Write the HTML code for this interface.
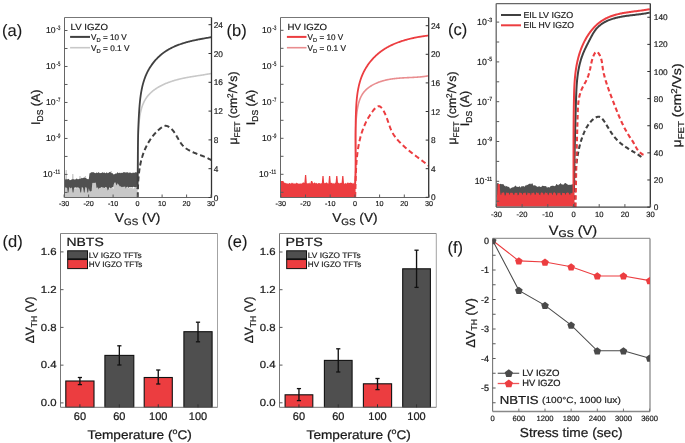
<!DOCTYPE html>
<html><head><meta charset="utf-8"><style>
html,body{margin:0;padding:0;background:#fff;}
svg{display:block;will-change:transform;font-family:"Liberation Sans", sans-serif;}
text{stroke:#1a1a1a;stroke-width:0.24px;text-rendering:geometricPrecision;}
text.s{stroke-width:0.18px;}
text.n{stroke-width:0.1px;}
</style></head><body>
<svg width="685" height="443" viewBox="0 0 685 443">
<rect width="685" height="443" fill="#fff"/>
<path d="M65,187.72 L65.6,170 L66.2,170 L66.8,170 L67.4,188.06 L68,187.79 L68.6,187.29 L69.2,188.01 L69.8,187.26 L70.4,187.89 L71,187.31 L71.6,187.35 L72.2,174 L72.8,174 L73.4,174 L74,187.56 L74.6,188.2 L75.2,188.72 L75.8,188.12 L76.4,187.83 L77,188.76 L77.6,187.27 L78.2,188.57 L78.8,187.66 L79.4,176 L80,176 L80.6,176 L81.2,188.51 L81.8,187.49 L82.4,188.13 L83,188.22 L83.6,187.8 L84.2,188.08 L84.8,176 L85.4,176 L86,176 L86.6,188.29 L87.2,187.88 L87.8,187.7 L88.4,188.14 L89,187.93 L89.6,187.68 L90.2,188.47 L90.8,188.32 L91.4,182.15 L92,182.75 L92.6,181.58 L93.2,181.24 L93.8,182.51 L94.4,181.98 L95,182.34 L95.6,182.15 L96.2,181.63 L96.8,182.19 L97.4,181.91 L98,182.89 L98.6,182.33 L99.2,182.4 L99.8,182.99 L100.4,181.57 L101,182.34 L101.6,187.24 L102.2,187.94 L102.8,187.47 L103.4,187.39 L104,187.29 L104.6,188.43 L105.2,187.41 L105.8,187.6 L106.4,187.83 L107,188.59 L107.6,187.33 L108.2,187.92 L108.8,188.08 L109.4,188.61 L110,188.51 L110.6,171 L111.2,171 L111.8,171 L112.4,187.77 L113,188.61 L113.6,188.73 L114.2,182.35 L114.8,182.47 L115.4,183.18 L116,182.01 L116.6,182.74 L117.2,183.91 L117.8,183.03 L118.4,183.35 L119,183.8 L119.6,183.75 L120.2,182.78 L120.8,182.21 L121.4,188.21 L122,187.3 L122.6,187.31 L123.2,187.53 L123.8,187.46 L124.4,187.74 L125,187.28 L125.6,187.2 L126.2,187.44 L126.8,187.36 L127.4,187.78 L128,187.24 L128.6,188.6 L129.2,188.18 L129.8,187.44 L130.4,187.6 L131,187.76 L131.6,187.78 L132.2,187.4 L132.8,188.56 L133.4,188.79 L134,187.95 L134.6,187.97 L135.2,187.34 L135.8,187.36 L136.4,187.75 L137,187.62 L137.6,188.53 L137.6,187.46 L137.6,197 L137.6,197 L137,197 L136.4,197 L135.8,197 L135.2,197 L134.6,197 L134,197 L133.4,197 L132.8,197 L132.2,197 L131.6,197 L131,197 L130.4,197 L129.8,197 L129.2,197 L128.6,197 L128,197 L127.4,197 L126.8,197 L126.2,197 L125.6,197 L125,197 L124.4,197 L123.8,197 L123.2,197 L122.6,197 L122,197 L121.4,197 L120.8,197 L120.2,197 L119.6,197 L119,197 L118.4,197 L117.8,197 L117.2,197 L116.6,197 L116,197 L115.4,197 L114.8,197 L114.2,197 L113.6,197 L113,197 L112.4,197 L111.8,197 L111.2,197 L110.6,197 L110,197 L109.4,197 L108.8,197 L108.2,197 L107.6,197 L107,197 L106.4,197 L105.8,197 L105.2,197 L104.6,197 L104,197 L103.4,197 L102.8,197 L102.2,197 L101.6,197 L101,197 L100.4,197 L99.8,197 L99.2,197 L98.6,197 L98,197 L97.4,197 L96.8,197 L96.2,197 L95.6,197 L95,197 L94.4,197 L93.8,197 L93.2,197 L92.6,197 L92,197 L91.4,197 L90.8,197 L90.2,197 L89.6,197 L89,197 L88.4,197 L87.8,197 L87.2,197 L86.6,197 L86,197 L85.4,197 L84.8,197 L84.2,197 L83.6,197 L83,197 L82.4,197 L81.8,197 L81.2,197 L80.6,197 L80,197 L79.4,197 L78.8,197 L78.2,197 L77.6,197 L77,197 L76.4,197 L75.8,197 L75.2,197 L74.6,197 L74,197 L73.4,197 L72.8,197 L72.2,197 L71.6,197 L71,197 L70.4,197 L69.8,197 L69.2,197 L68.6,197 L68,197 L67.4,197 L66.8,197 L66.2,197 L65.6,197 L65,197Z" stroke="none" stroke-width="1" fill="#c8c8c8"/>
<path d="M65,178.41 L65.7,179.82 L66.4,179.33 L67.1,178.9 L67.8,179.53 L68.5,178.87 L69.2,179.61 L69.9,180.27 L70.6,180.11 L71.3,179.85 L72,179.2 L72.7,179.29 L73.4,178.93 L74.1,179.69 L74.8,179.24 L75.5,179.48 L76.2,178.73 L76.9,178.45 L77.6,179.16 L78.3,179.28 L79,178.99 L79.7,178.83 L80.4,178.77 L81.1,178.6 L81.8,177.84 L82.5,178.23 L83.2,178 L83.9,177.56 L84.6,177.61 L85.3,178.02 L86,178.07 L86.7,178.77 L87.4,179.25 L88.1,178.65 L88.8,179.45 L89.5,173.28 L90.2,173.24 L90.9,172.41 L91.6,172.21 L92.3,172.22 L93,172.18 L93.7,172.19 L94.4,172.77 L95.1,173.16 L95.8,173.08 L96.5,172.57 L97.2,172.81 L97.9,173.02 L98.6,172.02 L99.3,172.82 L100,173.17 L100.7,173 L101.4,172.95 L102.1,172.57 L102.8,172.15 L103.5,173 L104.2,172.37 L104.9,173.02 L105.6,173.26 L106.3,172.45 L107,172.46 L107.7,173.23 L108.4,172.91 L109.1,172.14 L109.8,172.08 L110.5,172.11 L111.2,173.17 L111.9,173.03 L112.6,173.3 L113.3,174.26 L114,174.47 L114.7,174.02 L115.4,173.59 L116.1,173.87 L116.8,173.28 L117.5,171.92 L118.2,173.26 L118.9,172.81 L119.6,172.64 L120.3,173.21 L121,172.51 L121.7,173.12 L122.4,173.06 L123.1,172.2 L123.8,172.25 L124.5,172.31 L125.2,172.24 L125.9,172.72 L126.6,172.26 L127.3,172.49 L128,172.08 L128.7,173.17 L129.4,172.4 L130.1,172.54 L130.8,172.72 L131.5,173.17 L132.2,172.49 L132.9,173.18 L133.6,172.6 L134.3,172.64 L135,172.63 L135.7,171.93 L136.4,172.52 L137.1,172.16 L137.8,171.91 L137.8,187.48 L137.1,186.96 L136.4,187.09 L135.7,187.03 L135,187.45 L134.3,187.1 L133.6,186.64 L132.9,187.01 L132.2,187.42 L131.5,186.91 L130.8,187.01 L130.1,187.31 L129.4,187.05 L128.7,187.71 L128,187.6 L127.3,186.62 L126.6,187.71 L125.9,186.42 L125.2,188.77 L124.5,186.32 L123.8,187.45 L123.1,186.45 L122.4,187.26 L121.7,187.61 L121,186.55 L120.3,186.23 L119.6,186.15 L118.9,184.65 L118.2,184.33 L117.5,183.34 L116.8,185.52 L116.1,184.23 L115.4,182.62 L114.7,182.41 L114,183.49 L113.3,187.17 L112.6,187.06 L111.9,187.43 L111.2,187.68 L110.5,188.31 L109.8,187.24 L109.1,187.91 L108.4,189.68 L107.7,190.59 L107,188.02 L106.3,187.13 L105.6,187.11 L104.9,187.73 L104.2,187.88 L103.5,187.43 L102.8,187.84 L102.1,187.18 L101.4,187.08 L100.7,187.5 L100,188.22 L99.3,187.8 L98.6,189.43 L97.9,187.02 L97.2,187.88 L96.5,187.76 L95.8,182.33 L95.1,183.18 L94.4,182.72 L93.7,182.79 L93,183.2 L92.3,182.67 L91.6,191.01 L90.9,191.19 L90.2,191.48 L89.5,190.84 L88.8,188.33 L88.1,192.5 L87.4,192.5 L86.7,187.65 L86,187.56 L85.3,187.09 L84.6,192.5 L83.9,192.5 L83.2,188.19 L82.5,187.41 L81.8,187.26 L81.1,192.5 L80.4,192.5 L79.7,188.39 L79,188.07 L78.3,187.45 L77.6,187.39 L76.9,187.47 L76.2,187.74 L75.5,187.25 L74.8,187.71 L74.1,187.42 L73.4,192.5 L72.7,192.5 L72,187.88 L71.3,187.39 L70.6,188.55 L69.9,187.5 L69.2,187.57 L68.5,192.5 L67.8,192.5 L67.1,187.76 L66.4,187.8 L65.7,187.32 L65,187.81Z" stroke="none" stroke-width="1" fill="#505050"/>
<path d="M137.39,188.96 L137.44,188.42 L137.49,187.88 L137.54,187.34 L137.58,186.79 L137.63,186.25 L137.67,185.71 L137.71,185.16 L137.74,184.62 L137.78,184.08 L137.81,183.54 L137.85,182.99 L137.88,182.45 L137.91,181.91 L137.93,181.36 L137.96,180.82 L137.99,180.27 L138.01,179.73 L138.03,179.19 L138.05,178.64 L138.07,178.1 L138.09,177.55 L138.1,177.01 L138.12,176.46 L138.13,175.92 L138.15,175.37 L138.16,174.83 L138.17,174.28 L138.18,173.74 L138.19,173.19 L138.19,172.65 L138.2,172.1 L138.21,171.56 L138.21,171.01 L138.21,170.46 L138.22,169.92 L138.22,169.37 L138.22,168.82 L138.22,168.28 L138.22,167.73 L138.22,167.18 L138.22,166.64 L138.22,166.09 L138.21,165.54 L138.21,165 L138.21,164.45 L138.2,163.9 L138.2,163.35 L138.19,162.81 L138.19,162.26 L138.18,161.71 L138.18,161.16 L138.17,160.61 L138.16,160.06 L138.16,159.52 L138.15,158.97 L138.14,158.42 L138.14,157.87 L138.13,157.32 L138.12,156.77 L138.12,156.22 L138.11,155.67 L138.1,155.12 L138.09,154.58 L138.09,154.03 L138.08,153.48 L138.07,152.93 L138.07,152.38 L138.06,151.83 L138.06,151.28 L138.05,150.73 L138.05,150.18 L138.04,149.63 L138.04,149.07 L138.03,148.52 L138.03,147.97 L138.03,147.42 L138.03,146.87 L138.02,146.32 L138.02,145.77 L138.02,145.22 L138.02,144.67 L138.03,144.12 L138.03,143.56 L138.03,143.01 L138.03,142.46 L138.04,141.91 L138.04,141.36 L138.05,140.81 L138.06,140.25 L138.07,139.7 L138.08,139.15 L138.09,138.6 L138.1,138.04 L138.11,137.49 L138.13,136.94 L138.14,136.39 L138.16,135.83 L138.18,135.28 L138.19,134.73 L138.22,134.17 L138.24,133.62 L138.26,133.07 L138.28,132.51 L138.31,131.96 L138.34,131.41 L138.37,130.85 L138.4,130.3 L138.43,129.75 L138.47,129.19 L138.5,128.64 L138.54,128.08 L138.58,127.53 L138.62,126.98 L138.66,126.42 L138.71,125.87 L138.75,125.31 L138.8,124.76 L138.85,124.2 L138.91,123.65 L138.96,123.09 L139.02,122.54 L139.08,121.98 L139.14,121.43 L139.2,120.87 L139.26,120.32 L139.33,119.76 L139.4,119.21 L139.48,118.66 L139.55,118.1 L139.63,117.55 L139.71,117 L139.8,116.45 L139.89,115.9 L139.98,115.35 L140.07,114.8 L140.17,114.26 L140.28,113.71 L140.38,113.17 L140.5,112.63 L140.61,112.09 L140.73,111.55 L140.86,111.02 L140.98,110.49 L141.12,109.96 L141.26,109.43 L141.4,108.91 L141.55,108.38 L141.7,107.87 L141.86,107.35 L142.02,106.84 L142.19,106.33 L142.37,105.82 L142.55,105.32 L142.74,104.82 L142.93,104.32 L143.13,103.83 L143.34,103.35 L143.55,102.86 L143.77,102.38 L143.99,101.91 L144.23,101.44 L144.47,100.97 L144.71,100.51 L144.97,100.05 L145.23,99.6 L145.49,99.16 L145.77,98.71 L146.05,98.28 L146.34,97.85 L146.64,97.42 L146.95,97 L147.26,96.59 L147.59,96.18 L147.91,95.78 L148.25,95.38 L148.59,94.98 L148.94,94.6 L149.3,94.21 L149.66,93.84 L150.03,93.46 L150.41,93.1 L150.79,92.73 L151.18,92.38 L151.57,92.02 L151.98,91.67 L152.38,91.33 L152.79,90.99 L153.21,90.66 L153.63,90.33 L154.06,90.01 L154.5,89.69 L154.93,89.37 L155.38,89.06 L155.83,88.76 L156.28,88.46 L156.74,88.16 L157.2,87.87 L157.67,87.58 L158.14,87.3 L158.61,87.02 L159.09,86.75 L159.57,86.48 L160.06,86.21 L160.55,85.95 L161.04,85.69 L161.54,85.44 L162.04,85.19 L162.54,84.95 L163.05,84.71 L163.56,84.47 L164.07,84.24 L164.58,84.01 L165.1,83.79 L165.62,83.57 L166.14,83.35 L166.67,83.14 L167.19,82.93 L167.72,82.72 L168.25,82.52 L168.78,82.32 L169.31,82.13 L169.85,81.94 L170.38,81.75 L170.92,81.57 L171.46,81.39 L171.99,81.21 L172.53,81.04 L173.07,80.87 L173.61,80.71 L174.16,80.54 L174.7,80.38 L175.24,80.23 L175.78,80.07 L176.32,79.93 L176.87,79.78 L177.41,79.63 L177.95,79.49 L178.5,79.36 L179.04,79.22 L179.59,79.09 L180.13,78.96 L180.67,78.83 L181.22,78.7 L181.76,78.58 L182.31,78.46 L182.85,78.34 L183.4,78.23 L183.94,78.11 L184.49,78 L185.03,77.89 L185.58,77.78 L186.12,77.68 L186.67,77.57 L187.21,77.47 L187.76,77.37 L188.3,77.27 L188.85,77.17 L189.39,77.08 L189.94,76.98 L190.48,76.89 L191.02,76.79 L191.57,76.7 L192.11,76.61 L192.65,76.52 L193.2,76.43 L193.74,76.35 L194.28,76.26 L194.82,76.17 L195.36,76.09 L195.9,76 L196.44,75.92 L196.98,75.83 L197.52,75.75 L198.06,75.67 L198.6,75.58 L199.14,75.5 L199.68,75.42 L200.21,75.34 L200.75,75.25 L201.28,75.17 L201.82,75.09 L202.35,75 L202.89,74.92 L203.42,74.84 L203.95,74.75 L204.48,74.67 L205.01,74.58 L205.54,74.49 L206.07,74.41 L206.6,74.32 L207.12,74.23 L207.65,74.14 L208.18,74.05 L208.7,73.96 L209.22,73.86 L209.75,73.77 L210.27,73.67 L210.79,73.58 L211.31,73.48" stroke="#c8c8c8" stroke-width="1.6" fill="none"/>
<path d="M137.43,189.03 L137.44,188.37 L137.46,187.71 L137.48,187.05 L137.49,186.39 L137.51,185.73 L137.52,185.07 L137.53,184.41 L137.55,183.75 L137.56,183.09 L137.57,182.44 L137.58,181.78 L137.6,181.12 L137.61,180.47 L137.62,179.81 L137.63,179.16 L137.64,178.51 L137.65,177.85 L137.66,177.2 L137.66,176.55 L137.67,175.9 L137.68,175.24 L137.69,174.59 L137.7,173.94 L137.7,173.29 L137.71,172.64 L137.72,171.99 L137.72,171.34 L137.73,170.69 L137.74,170.04 L137.74,169.4 L137.75,168.75 L137.75,168.1 L137.76,167.45 L137.76,166.8 L137.77,166.16 L137.77,165.51 L137.78,164.86 L137.78,164.22 L137.79,163.57 L137.79,162.93 L137.8,162.28 L137.8,161.64 L137.81,160.99 L137.81,160.35 L137.82,159.7 L137.82,159.06 L137.83,158.41 L137.83,157.77 L137.84,157.12 L137.84,156.48 L137.84,155.84 L137.85,155.19 L137.86,154.55 L137.86,153.91 L137.87,153.26 L137.87,152.62 L137.88,151.97 L137.88,151.33 L137.89,150.69 L137.9,150.04 L137.9,149.4 L137.91,148.76 L137.92,148.11 L137.92,147.47 L137.93,146.83 L137.94,146.18 L137.95,145.54 L137.96,144.9 L137.96,144.25 L137.97,143.61 L137.98,142.97 L137.99,142.32 L138,141.68 L138.01,141.04 L138.02,140.39 L138.04,139.75 L138.05,139.1 L138.06,138.46 L138.07,137.81 L138.09,137.17 L138.1,136.52 L138.11,135.88 L138.13,135.23 L138.14,134.59 L138.16,133.94 L138.18,133.29 L138.19,132.65 L138.21,132 L138.23,131.35 L138.25,130.71 L138.27,130.06 L138.29,129.41 L138.31,128.76 L138.33,128.11 L138.35,127.47 L138.38,126.82 L138.4,126.17 L138.42,125.52 L138.45,124.87 L138.47,124.22 L138.5,123.57 L138.53,122.91 L138.56,122.26 L138.59,121.61 L138.62,120.96 L138.65,120.3 L138.68,119.65 L138.71,119 L138.74,118.34 L138.78,117.69 L138.81,117.03 L138.85,116.38 L138.88,115.72 L138.92,115.06 L138.96,114.4 L139,113.75 L139.04,113.09 L139.08,112.43 L139.12,111.77 L139.17,111.11 L139.21,110.45 L139.26,109.79 L139.31,109.12 L139.35,108.46 L139.4,107.8 L139.45,107.13 L139.51,106.47 L139.56,105.81 L139.61,105.14 L139.67,104.48 L139.73,103.81 L139.79,103.15 L139.86,102.49 L139.92,101.82 L139.99,101.16 L140.06,100.5 L140.13,99.83 L140.21,99.17 L140.28,98.51 L140.36,97.85 L140.45,97.19 L140.54,96.53 L140.62,95.87 L140.72,95.21 L140.81,94.56 L140.91,93.9 L141.02,93.25 L141.12,92.59 L141.23,91.94 L141.35,91.29 L141.47,90.64 L141.59,90 L141.71,89.35 L141.85,88.71 L141.98,88.06 L142.12,87.42 L142.26,86.79 L142.41,86.15 L142.56,85.51 L142.72,84.88 L142.88,84.25 L143.05,83.62 L143.23,83 L143.4,82.38 L143.59,81.76 L143.78,81.14 L143.97,80.52 L144.17,79.91 L144.38,79.3 L144.59,78.69 L144.8,78.09 L145.03,77.49 L145.26,76.89 L145.49,76.29 L145.74,75.7 L145.98,75.11 L146.24,74.53 L146.5,73.95 L146.77,73.37 L147.04,72.79 L147.32,72.22 L147.61,71.65 L147.9,71.09 L148.2,70.53 L148.5,69.97 L148.81,69.42 L149.13,68.87 L149.45,68.32 L149.78,67.78 L150.11,67.25 L150.46,66.71 L150.8,66.18 L151.16,65.66 L151.51,65.14 L151.88,64.62 L152.25,64.11 L152.63,63.6 L153.01,63.1 L153.4,62.6 L153.79,62.11 L154.19,61.62 L154.59,61.14 L155,60.66 L155.42,60.18 L155.84,59.71 L156.27,59.25 L156.71,58.79 L157.14,58.33 L157.59,57.88 L158.04,57.44 L158.5,57 L158.96,56.56 L159.42,56.13 L159.9,55.71 L160.37,55.29 L160.86,54.88 L161.35,54.47 L161.84,54.07 L162.34,53.67 L162.84,53.28 L163.35,52.89 L163.87,52.51 L164.39,52.14 L164.91,51.77 L165.45,51.41 L165.98,51.05 L166.52,50.7 L167.07,50.36 L167.62,50.02 L168.18,49.69 L168.74,49.37 L169.3,49.05 L169.87,48.73 L170.45,48.43 L171.03,48.12 L171.61,47.83 L172.2,47.54 L172.8,47.25 L173.39,46.97 L173.99,46.7 L174.6,46.43 L175.2,46.17 L175.81,45.91 L176.43,45.66 L177.05,45.41 L177.67,45.17 L178.29,44.93 L178.92,44.7 L179.54,44.47 L180.18,44.24 L180.81,44.02 L181.45,43.81 L182.08,43.6 L182.72,43.39 L183.37,43.19 L184.01,42.99 L184.65,42.79 L185.3,42.6 L185.95,42.42 L186.6,42.23 L187.25,42.05 L187.9,41.88 L188.55,41.71 L189.2,41.54 L189.86,41.37 L190.51,41.21 L191.17,41.05 L191.82,40.89 L192.47,40.74 L193.13,40.59 L193.78,40.45 L194.44,40.3 L195.09,40.16 L195.74,40.02 L196.39,39.88 L197.04,39.75 L197.69,39.62 L198.34,39.49 L198.99,39.36 L199.64,39.24 L200.28,39.11 L200.93,38.99 L201.57,38.87 L202.21,38.76 L202.84,38.64 L203.48,38.53 L204.11,38.42 L204.74,38.3 L205.37,38.19 L206,38.09 L206.62,37.98 L207.24,37.87 L207.86,37.77 L208.47,37.66 L209.08,37.56 L209.69,37.46 L210.29,37.36 L210.89,37.26 L211.48,37.16" stroke="#404040" stroke-width="1.8" fill="none"/>
<path d="M137.72,197.33 L137.73,196.85 L137.74,196.38 L137.75,195.91 L137.76,195.43 L137.77,194.96 L137.78,194.49 L137.79,194.02 L137.8,193.54 L137.81,193.07 L137.82,192.6 L137.84,192.13 L137.85,191.65 L137.86,191.18 L137.87,190.71 L137.89,190.24 L137.9,189.76 L137.91,189.29 L137.93,188.82 L137.94,188.35 L137.96,187.88 L137.98,187.41 L137.99,186.94 L138.01,186.47 L138.03,186 L138.05,185.53 L138.07,185.06 L138.09,184.59 L138.11,184.12 L138.13,183.65 L138.15,183.18 L138.18,182.71 L138.2,182.24 L138.23,181.77 L138.26,181.3 L138.29,180.83 L138.32,180.37 L138.35,179.9 L138.38,179.43 L138.41,178.97 L138.45,178.5 L138.48,178.03 L138.52,177.57 L138.56,177.1 L138.6,176.63 L138.64,176.17 L138.68,175.7 L138.73,175.24 L138.78,174.78 L138.82,174.31 L138.87,173.85 L138.92,173.38 L138.98,172.92 L139.03,172.46 L139.09,172 L139.15,171.53 L139.21,171.07 L139.27,170.61 L139.33,170.15 L139.4,169.69 L139.46,169.23 L139.53,168.77 L139.61,168.31 L139.68,167.85 L139.76,167.39 L139.83,166.93 L139.91,166.48 L140,166.02 L140.08,165.56 L140.17,165.11 L140.26,164.65 L140.35,164.19 L140.44,163.74 L140.54,163.28 L140.64,162.83 L140.74,162.37 L140.84,161.92 L140.95,161.47 L141.06,161.02 L141.17,160.56 L141.29,160.11 L141.4,159.66 L141.52,159.21 L141.65,158.76 L141.77,158.31 L141.9,157.86 L142.03,157.41 L142.17,156.97 L142.3,156.52 L142.44,156.07 L142.59,155.62 L142.73,155.18 L142.88,154.73 L143.03,154.29 L143.19,153.84 L143.35,153.4 L143.51,152.96 L143.68,152.51 L143.84,152.07 L144.01,151.63 L144.19,151.19 L144.37,150.75 L144.55,150.31 L144.73,149.88 L144.92,149.44 L145.11,149 L145.31,148.57 L145.5,148.14 L145.7,147.71 L145.91,147.27 L146.11,146.85 L146.32,146.42 L146.54,145.99 L146.75,145.57 L146.97,145.14 L147.2,144.72 L147.42,144.3 L147.65,143.88 L147.88,143.47 L148.12,143.05 L148.36,142.64 L148.6,142.23 L148.84,141.82 L149.09,141.41 L149.34,141.01 L149.6,140.61 L149.86,140.21 L150.12,139.81 L150.38,139.41 L150.65,139.02 L150.92,138.63 L151.19,138.24 L151.47,137.85 L151.75,137.47 L152.04,137.09 L152.32,136.71 L152.61,136.33 L152.91,135.96 L153.2,135.59 L153.5,135.22 L153.8,134.86 L154.11,134.5 L154.42,134.14 L154.73,133.78 L155.05,133.43 L155.37,133.08 L155.69,132.73 L156.01,132.39 L156.34,132.05 L156.68,131.72 L157.01,131.38 L157.35,131.06 L157.69,130.73 L158.03,130.41 L158.38,130.09 L158.73,129.78 L159.09,129.47 L159.44,129.16 L159.81,128.86 L160.17,128.56 L160.54,128.26 L160.91,127.97 L161.28,127.69 L161.66,127.41 L162.04,127.15 L162.42,126.9 L162.8,126.67 L163.19,126.47 L163.58,126.28 L163.98,126.12 L164.37,125.99 L164.77,125.9 L165.17,125.83 L165.58,125.81 L165.98,125.82 L166.39,125.87 L166.8,125.96 L167.2,126.08 L167.61,126.23 L168.01,126.4 L168.41,126.6 L168.81,126.83 L169.2,127.07 L169.58,127.33 L169.96,127.61 L170.33,127.9 L170.69,128.2 L171.04,128.52 L171.38,128.84 L171.71,129.17 L172.04,129.51 L172.36,129.86 L172.67,130.21 L172.97,130.58 L173.27,130.95 L173.56,131.32 L173.85,131.71 L174.13,132.1 L174.4,132.49 L174.67,132.89 L174.94,133.29 L175.2,133.7 L175.46,134.11 L175.72,134.53 L175.97,134.94 L176.22,135.36 L176.47,135.79 L176.72,136.21 L176.96,136.64 L177.21,137.06 L177.45,137.49 L177.69,137.91 L177.94,138.34 L178.18,138.76 L178.42,139.19 L178.67,139.61 L178.91,140.03 L179.16,140.45 L179.41,140.86 L179.67,141.27 L179.92,141.68 L180.18,142.08 L180.45,142.48 L180.71,142.87 L180.98,143.26 L181.26,143.64 L181.54,144.02 L181.83,144.39 L182.12,144.75 L182.42,145.11 L182.72,145.45 L183.04,145.79 L183.36,146.12 L183.68,146.44 L184.01,146.76 L184.35,147.07 L184.7,147.36 L185.05,147.66 L185.4,147.94 L185.77,148.22 L186.13,148.49 L186.51,148.75 L186.89,149.01 L187.27,149.26 L187.66,149.51 L188.05,149.75 L188.45,149.99 L188.85,150.22 L189.25,150.44 L189.66,150.66 L190.07,150.88 L190.49,151.09 L190.91,151.3 L191.33,151.5 L191.76,151.7 L192.19,151.9 L192.62,152.09 L193.05,152.28 L193.49,152.47 L193.93,152.65 L194.37,152.83 L194.81,153.01 L195.26,153.19 L195.7,153.36 L196.15,153.54 L196.6,153.71 L197.04,153.88 L197.49,154.05 L197.94,154.22 L198.39,154.39 L198.84,154.56 L199.29,154.72 L199.74,154.89 L200.19,155.06 L200.64,155.23 L201.09,155.4 L201.54,155.57 L201.99,155.74 L202.43,155.91 L202.88,156.09 L203.32,156.26 L203.76,156.44 L204.2,156.62 L204.63,156.8 L205.07,156.99 L205.5,157.18 L205.93,157.37 L206.36,157.56 L206.78,157.76 L207.2,157.96 L207.62,158.16 L208.03,158.37 L208.44,158.59 L208.85,158.8 L209.25,159.02 L209.65,159.25 L210.04,159.48 L210.43,159.72 L210.81,159.96 L211.19,160.21" stroke="#404040" stroke-width="2" fill="none" stroke-dasharray="5 3"/>
<line x1="64.5" y1="17.5" x2="211.5" y2="17.5" stroke="#777" stroke-width="1"/>
<line x1="211.5" y1="17.5" x2="211.5" y2="197.5" stroke="#333" stroke-width="1.3"/>
<line x1="64.5" y1="197.5" x2="211.5" y2="197.5" stroke="#666" stroke-width="1"/>
<line x1="64.5" y1="17.5" x2="64.5" y2="197.5" stroke="#666" stroke-width="1"/>
<line x1="64.5" y1="30.5" x2="67.5" y2="30.5" stroke="#5a5a5a" stroke-width="1"/>
<line x1="64.5" y1="48.49" x2="67.5" y2="48.49" stroke="#5a5a5a" stroke-width="1"/>
<line x1="64.5" y1="66.48" x2="67.5" y2="66.48" stroke="#5a5a5a" stroke-width="1"/>
<line x1="64.5" y1="84.47" x2="67.5" y2="84.47" stroke="#5a5a5a" stroke-width="1"/>
<line x1="64.5" y1="102.46" x2="67.5" y2="102.46" stroke="#5a5a5a" stroke-width="1"/>
<line x1="64.5" y1="120.45" x2="67.5" y2="120.45" stroke="#5a5a5a" stroke-width="1"/>
<line x1="64.5" y1="138.44" x2="67.5" y2="138.44" stroke="#5a5a5a" stroke-width="1"/>
<line x1="64.5" y1="156.43" x2="67.5" y2="156.43" stroke="#5a5a5a" stroke-width="1"/>
<line x1="64.5" y1="174.42" x2="67.5" y2="174.42" stroke="#5a5a5a" stroke-width="1"/>
<line x1="64.5" y1="192.41" x2="67.5" y2="192.41" stroke="#5a5a5a" stroke-width="1"/>
<text class="s" x="60.3" y="30" font-size="6.3" text-anchor="end" fill="#1a1a1a" textLength="3.8" lengthAdjust="spacingAndGlyphs">-3</text>
<text class="s" x="55.5" y="33.1" font-size="8.6" text-anchor="end" fill="#1a1a1a">10</text>
<text class="s" x="60.3" y="65.98" font-size="6.3" text-anchor="end" fill="#1a1a1a" textLength="3.8" lengthAdjust="spacingAndGlyphs">-5</text>
<text class="s" x="55.5" y="69.08" font-size="8.6" text-anchor="end" fill="#1a1a1a">10</text>
<text class="s" x="60.3" y="101.96" font-size="6.3" text-anchor="end" fill="#1a1a1a" textLength="3.8" lengthAdjust="spacingAndGlyphs">-7</text>
<text class="s" x="55.5" y="105.06" font-size="8.6" text-anchor="end" fill="#1a1a1a">10</text>
<text class="s" x="60.3" y="137.94" font-size="6.3" text-anchor="end" fill="#1a1a1a" textLength="3.8" lengthAdjust="spacingAndGlyphs">-9</text>
<text class="s" x="55.5" y="141.04" font-size="8.6" text-anchor="end" fill="#1a1a1a">10</text>
<text class="s" x="60.3" y="173.92" font-size="6.3" text-anchor="end" fill="#1a1a1a" textLength="6.8" lengthAdjust="spacingAndGlyphs">-11</text>
<text class="s" x="52.5" y="177.02" font-size="8.6" text-anchor="end" fill="#1a1a1a">10</text>
<line x1="208.5" y1="197.5" x2="211.5" y2="197.5" stroke="#333" stroke-width="1"/>
<text class="s" x="213.7" y="200.5" font-size="8.3" text-anchor="start" fill="#1a1a1a">0</text>
<line x1="208.5" y1="168.7" x2="211.5" y2="168.7" stroke="#333" stroke-width="1"/>
<text class="s" x="213.7" y="171.7" font-size="8.3" text-anchor="start" fill="#1a1a1a">4</text>
<line x1="208.5" y1="139.9" x2="211.5" y2="139.9" stroke="#333" stroke-width="1"/>
<text class="s" x="213.7" y="142.9" font-size="8.3" text-anchor="start" fill="#1a1a1a">8</text>
<line x1="208.5" y1="111.1" x2="211.5" y2="111.1" stroke="#333" stroke-width="1"/>
<text class="s" x="213.7" y="114.1" font-size="8.3" text-anchor="start" fill="#1a1a1a">12</text>
<line x1="208.5" y1="82.3" x2="211.5" y2="82.3" stroke="#333" stroke-width="1"/>
<text class="s" x="213.7" y="85.3" font-size="8.3" text-anchor="start" fill="#1a1a1a">16</text>
<line x1="208.5" y1="53.5" x2="211.5" y2="53.5" stroke="#333" stroke-width="1"/>
<text class="s" x="213.7" y="56.5" font-size="8.3" text-anchor="start" fill="#1a1a1a">20</text>
<line x1="208.5" y1="24.7" x2="211.5" y2="24.7" stroke="#333" stroke-width="1"/>
<text class="s" x="213.7" y="27.7" font-size="8.3" text-anchor="start" fill="#1a1a1a">24</text>
<line x1="64.1" y1="197.5" x2="64.1" y2="194.5" stroke="#5a5a5a" stroke-width="1"/>
<text class="s" x="64.1" y="206.2" font-size="7.2" text-anchor="middle" fill="#1a1a1a">-30</text>
<line x1="88.6" y1="197.5" x2="88.6" y2="194.5" stroke="#5a5a5a" stroke-width="1"/>
<text class="s" x="88.6" y="206.2" font-size="7.2" text-anchor="middle" fill="#1a1a1a">-20</text>
<line x1="113.1" y1="197.5" x2="113.1" y2="194.5" stroke="#5a5a5a" stroke-width="1"/>
<text class="s" x="113.1" y="206.2" font-size="7.2" text-anchor="middle" fill="#1a1a1a">-10</text>
<line x1="137.6" y1="197.5" x2="137.6" y2="194.5" stroke="#5a5a5a" stroke-width="1"/>
<text class="s" x="137.6" y="206.2" font-size="7.2" text-anchor="middle" fill="#1a1a1a">0</text>
<line x1="162.1" y1="197.5" x2="162.1" y2="194.5" stroke="#5a5a5a" stroke-width="1"/>
<text class="s" x="162.1" y="206.2" font-size="7.2" text-anchor="middle" fill="#1a1a1a">10</text>
<line x1="186.6" y1="197.5" x2="186.6" y2="194.5" stroke="#5a5a5a" stroke-width="1"/>
<text class="s" x="186.6" y="206.2" font-size="7.2" text-anchor="middle" fill="#1a1a1a">20</text>
<line x1="211.1" y1="197.5" x2="211.1" y2="194.5" stroke="#5a5a5a" stroke-width="1"/>
<text class="s" x="211.1" y="206.2" font-size="7.2" text-anchor="middle" fill="#1a1a1a">30</text>
<path d="M281,181 L281.6,181 L282.2,181 L282.8,181 L283.4,181 L284,182.43 L284.6,182.86 L285.2,182.75 L285.8,183.28 L286.4,183.19 L287,183.53 L287.6,183.39 L288.2,183.47 L288.8,183.72 L289.4,182.98 L290,182.89 L290.6,183.88 L291.2,182.62 L291.8,183.49 L292.4,183.36 L293,182.47 L293.6,183.65 L294.2,183.74 L294.8,183.34 L295.4,183.5 L296,183.62 L296.6,182.61 L297.2,183.19 L297.8,183.16 L298.4,183.65 L299,183.61 L299.6,183.64 L300.2,183.28 L300.8,183.74 L301.4,183.42 L302,183.44 L302.6,182.74 L303.2,182.45 L303.8,182.6 L304.4,182.94 L305,175 L305.6,175 L306.2,175 L306.8,183.34 L307.4,183.34 L308,183.42 L308.6,183.13 L309.2,182.4 L309.8,183.6 L310.4,183.52 L311,181 L311.6,181 L312.2,181 L312.8,182.5 L313.4,183.51 L314,182.78 L314.6,182.51 L315.2,182.8 L315.8,183.49 L316.4,182.71 L317,183.51 L317.6,183.86 L318.2,183.14 L318.8,182.97 L319.4,183.12 L320,183.43 L320.6,183.55 L321.2,183.33 L321.8,183.36 L322.4,176 L323,176 L323.6,176 L324.2,183.51 L324.8,182.86 L325.4,183.25 L326,182.42 L326.6,182.49 L327.2,182.8 L327.8,183.41 L328.4,183.44 L329,176 L329.6,176 L330.2,176 L330.8,183.1 L331.4,183.1 L332,182.58 L332.6,183.74 L333.2,182.7 L333.8,183.87 L334.4,183.8 L335,182.43 L335.6,183.09 L336.2,176 L336.8,176 L337.4,176 L338,182.8 L338.6,182.71 L339.2,183.82 L339.8,182.72 L340.4,183.27 L341,182.61 L341.6,183.19 L342.2,176 L342.8,176 L343.4,176 L344,183.16 L344.6,183.73 L345.2,183.46 L345.8,182.75 L346.4,183.75 L347,183.13 L347.6,182.44 L348.2,182.41 L348.8,183.14 L349.4,183.08 L350,182.85 L350.6,182.61 L351.2,182.92 L351.8,182.87 L352.4,183.66 L353,182.4 L353.6,183.53 L354.2,183.66 L354.8,182.58 L355.4,183.79 L355.6,183.47 L355.6,197 L355.4,197 L354.8,197 L354.2,197 L353.6,197 L353,197 L352.4,197 L351.8,197 L351.2,197 L350.6,197 L350,197 L349.4,197 L348.8,197 L348.2,197 L347.6,197 L347,197 L346.4,197 L345.8,197 L345.2,197 L344.6,197 L344,197 L343.4,197 L342.8,197 L342.2,197 L341.6,197 L341,197 L340.4,197 L339.8,197 L339.2,197 L338.6,197 L338,197 L337.4,197 L336.8,197 L336.2,197 L335.6,197 L335,197 L334.4,197 L333.8,197 L333.2,197 L332.6,197 L332,197 L331.4,197 L330.8,197 L330.2,197 L329.6,197 L329,197 L328.4,197 L327.8,197 L327.2,197 L326.6,197 L326,197 L325.4,197 L324.8,197 L324.2,197 L323.6,197 L323,197 L322.4,197 L321.8,197 L321.2,197 L320.6,197 L320,197 L319.4,197 L318.8,197 L318.2,197 L317.6,197 L317,197 L316.4,197 L315.8,197 L315.2,197 L314.6,197 L314,197 L313.4,197 L312.8,197 L312.2,197 L311.6,197 L311,197 L310.4,197 L309.8,197 L309.2,197 L308.6,197 L308,197 L307.4,197 L306.8,197 L306.2,197 L305.6,197 L305,197 L304.4,197 L303.8,197 L303.2,197 L302.6,197 L302,197 L301.4,197 L300.8,197 L300.2,197 L299.6,197 L299,197 L298.4,197 L297.8,197 L297.2,197 L296.6,197 L296,197 L295.4,197 L294.8,197 L294.2,197 L293.6,197 L293,197 L292.4,197 L291.8,197 L291.2,197 L290.6,197 L290,197 L289.4,197 L288.8,197 L288.2,197 L287.6,197 L287,197 L286.4,197 L285.8,197 L285.2,197 L284.6,197 L284,197 L283.4,197 L282.8,197 L282.2,197 L281.6,197 L281,197Z" stroke="none" stroke-width="1" fill="#ec3d40"/>
<path d="M354.88,188.98 L354.93,188.42 L354.98,187.86 L355.02,187.3 L355.06,186.74 L355.1,186.19 L355.14,185.63 L355.18,185.07 L355.22,184.51 L355.25,183.96 L355.28,183.4 L355.32,182.84 L355.35,182.29 L355.37,181.73 L355.4,181.17 L355.43,180.61 L355.45,180.06 L355.47,179.5 L355.5,178.94 L355.52,178.39 L355.54,177.83 L355.55,177.27 L355.57,176.72 L355.59,176.16 L355.6,175.6 L355.62,175.05 L355.63,174.49 L355.64,173.94 L355.65,173.38 L355.66,172.82 L355.67,172.27 L355.67,171.71 L355.68,171.15 L355.69,170.6 L355.69,170.04 L355.69,169.48 L355.7,168.93 L355.7,168.37 L355.7,167.82 L355.7,167.26 L355.7,166.7 L355.7,166.15 L355.7,165.59 L355.7,165.03 L355.7,164.48 L355.7,163.92 L355.69,163.37 L355.69,162.81 L355.68,162.25 L355.68,161.7 L355.67,161.14 L355.67,160.58 L355.66,160.03 L355.66,159.47 L355.65,158.91 L355.64,158.36 L355.64,157.8 L355.63,157.24 L355.62,156.69 L355.62,156.13 L355.61,155.57 L355.6,155.01 L355.59,154.46 L355.59,153.9 L355.58,153.34 L355.57,152.79 L355.56,152.23 L355.56,151.67 L355.55,151.11 L355.54,150.56 L355.53,150 L355.53,149.44 L355.52,148.88 L355.51,148.32 L355.51,147.77 L355.5,147.21 L355.5,146.65 L355.49,146.09 L355.49,145.53 L355.48,144.97 L355.48,144.41 L355.48,143.85 L355.47,143.3 L355.47,142.74 L355.47,142.18 L355.47,141.62 L355.47,141.06 L355.47,140.5 L355.47,139.94 L355.47,139.38 L355.47,138.82 L355.48,138.26 L355.48,137.7 L355.48,137.14 L355.49,136.57 L355.5,136.01 L355.5,135.45 L355.51,134.89 L355.52,134.33 L355.53,133.77 L355.54,133.21 L355.55,132.64 L355.57,132.08 L355.58,131.52 L355.6,130.96 L355.61,130.39 L355.63,129.83 L355.65,129.27 L355.67,128.7 L355.69,128.14 L355.72,127.57 L355.74,127.01 L355.77,126.45 L355.79,125.88 L355.82,125.32 L355.85,124.75 L355.88,124.19 L355.92,123.62 L355.95,123.06 L355.99,122.49 L356.02,121.92 L356.06,121.36 L356.1,120.79 L356.15,120.22 L356.19,119.66 L356.24,119.09 L356.28,118.52 L356.33,117.95 L356.38,117.39 L356.44,116.82 L356.49,116.25 L356.55,115.68 L356.61,115.11 L356.67,114.54 L356.73,113.97 L356.8,113.4 L356.86,112.83 L356.94,112.26 L357.01,111.69 L357.08,111.13 L357.16,110.56 L357.25,109.99 L357.33,109.43 L357.42,108.87 L357.52,108.3 L357.61,107.75 L357.72,107.19 L357.82,106.63 L357.93,106.08 L358.05,105.53 L358.17,104.98 L358.3,104.43 L358.43,103.89 L358.57,103.35 L358.72,102.82 L358.87,102.29 L359.02,101.76 L359.18,101.24 L359.35,100.72 L359.53,100.2 L359.71,99.69 L359.9,99.18 L360.1,98.68 L360.31,98.19 L360.52,97.7 L360.74,97.21 L360.97,96.73 L361.21,96.26 L361.45,95.79 L361.71,95.33 L361.97,94.87 L362.25,94.42 L362.53,93.98 L362.82,93.54 L363.12,93.12 L363.43,92.7 L363.75,92.28 L364.08,91.87 L364.42,91.47 L364.77,91.08 L365.13,90.7 L365.49,90.32 L365.87,89.94 L366.25,89.58 L366.64,89.22 L367.04,88.87 L367.44,88.52 L367.86,88.18 L368.28,87.85 L368.7,87.53 L369.14,87.21 L369.58,86.89 L370.03,86.59 L370.48,86.29 L370.94,85.99 L371.41,85.71 L371.88,85.42 L372.36,85.15 L372.85,84.88 L373.33,84.62 L373.83,84.36 L374.33,84.11 L374.83,83.86 L375.34,83.62 L375.85,83.39 L376.37,83.16 L376.89,82.94 L377.42,82.73 L377.95,82.52 L378.48,82.31 L379.01,82.11 L379.55,81.92 L380.09,81.73 L380.64,81.55 L381.19,81.37 L381.74,81.2 L382.29,81.03 L382.84,80.87 L383.4,80.72 L383.95,80.56 L384.51,80.42 L385.07,80.28 L385.63,80.14 L386.2,80.01 L386.76,79.89 L387.32,79.77 L387.89,79.65 L388.45,79.54 L389.02,79.43 L389.58,79.33 L390.15,79.23 L390.71,79.14 L391.28,79.05 L391.85,78.96 L392.42,78.88 L392.98,78.8 L393.55,78.73 L394.12,78.65 L394.69,78.59 L395.26,78.52 L395.83,78.46 L396.4,78.4 L396.97,78.34 L397.53,78.29 L398.1,78.24 L398.67,78.19 L399.24,78.14 L399.81,78.1 L400.38,78.06 L400.95,78.02 L401.52,77.98 L402.09,77.94 L402.66,77.91 L403.22,77.88 L403.79,77.84 L404.36,77.81 L404.93,77.78 L405.5,77.75 L406.06,77.73 L406.63,77.7 L407.2,77.67 L407.76,77.65 L408.33,77.62 L408.89,77.59 L409.45,77.57 L410.02,77.54 L410.58,77.52 L411.14,77.49 L411.7,77.46 L412.27,77.44 L412.83,77.41 L413.39,77.38 L413.94,77.35 L414.5,77.32 L415.06,77.29 L415.61,77.26 L416.17,77.22 L416.72,77.19 L417.28,77.15 L417.83,77.11 L418.38,77.07 L418.93,77.03 L419.48,76.98 L420.03,76.94 L420.58,76.89 L421.12,76.84 L421.67,76.78 L422.21,76.72 L422.75,76.66 L423.29,76.6 L423.83,76.54 L424.37,76.47 L424.91,76.39 L425.45,76.32 L425.98,76.24 L426.51,76.15 L427.04,76.07 L427.57,75.97 L428.1,75.88 L428.63,75.78" stroke="#e98d8f" stroke-width="1.6" fill="none"/>
<path d="M354.83,188.97 L354.87,188.31 L354.91,187.66 L354.95,187 L354.98,186.34 L355.02,185.68 L355.05,185.03 L355.09,184.37 L355.12,183.71 L355.15,183.06 L355.18,182.4 L355.21,181.75 L355.24,181.09 L355.26,180.44 L355.29,179.78 L355.31,179.13 L355.34,178.47 L355.36,177.82 L355.38,177.17 L355.4,176.51 L355.42,175.86 L355.44,175.21 L355.45,174.55 L355.47,173.9 L355.49,173.25 L355.5,172.6 L355.51,171.94 L355.53,171.29 L355.54,170.64 L355.55,169.99 L355.56,169.34 L355.57,168.69 L355.58,168.03 L355.59,167.38 L355.6,166.73 L355.6,166.08 L355.61,165.43 L355.62,164.78 L355.62,164.13 L355.63,163.48 L355.63,162.83 L355.63,162.18 L355.64,161.53 L355.64,160.88 L355.64,160.23 L355.64,159.58 L355.64,158.93 L355.65,158.28 L355.65,157.63 L355.65,156.98 L355.65,156.33 L355.65,155.68 L355.64,155.03 L355.64,154.38 L355.64,153.73 L355.64,153.08 L355.64,152.43 L355.64,151.78 L355.63,151.13 L355.63,150.48 L355.63,149.83 L355.63,149.18 L355.62,148.53 L355.62,147.87 L355.62,147.22 L355.62,146.57 L355.61,145.92 L355.61,145.27 L355.61,144.62 L355.6,143.97 L355.6,143.32 L355.6,142.66 L355.6,142.01 L355.59,141.36 L355.59,140.71 L355.59,140.06 L355.59,139.4 L355.59,138.75 L355.58,138.1 L355.58,137.44 L355.58,136.79 L355.58,136.14 L355.58,135.48 L355.58,134.83 L355.58,134.17 L355.58,133.52 L355.59,132.86 L355.59,132.21 L355.59,131.55 L355.59,130.9 L355.6,130.24 L355.6,129.58 L355.6,128.93 L355.61,128.27 L355.61,127.61 L355.62,126.95 L355.63,126.3 L355.63,125.64 L355.64,124.98 L355.65,124.32 L355.66,123.66 L355.67,123 L355.68,122.34 L355.69,121.68 L355.7,121.02 L355.72,120.35 L355.73,119.69 L355.75,119.03 L355.76,118.37 L355.78,117.7 L355.8,117.04 L355.81,116.38 L355.83,115.71 L355.85,115.05 L355.88,114.38 L355.9,113.71 L355.92,113.05 L355.95,112.38 L355.97,111.71 L356,111.04 L356.03,110.37 L356.06,109.71 L356.09,109.04 L356.12,108.37 L356.15,107.7 L356.19,107.03 L356.23,106.36 L356.26,105.69 L356.31,105.02 L356.35,104.35 L356.39,103.68 L356.44,103.01 L356.49,102.34 L356.55,101.67 L356.6,101 L356.66,100.34 L356.72,99.67 L356.78,99 L356.85,98.34 L356.92,97.67 L356.99,97.01 L357.07,96.35 L357.15,95.69 L357.23,95.03 L357.32,94.37 L357.41,93.71 L357.51,93.05 L357.61,92.4 L357.71,91.74 L357.82,91.09 L357.93,90.44 L358.04,89.79 L358.16,89.14 L358.29,88.5 L358.41,87.85 L358.55,87.21 L358.69,86.57 L358.83,85.93 L358.98,85.3 L359.13,84.66 L359.29,84.03 L359.46,83.4 L359.62,82.77 L359.8,82.15 L359.98,81.53 L360.17,80.91 L360.36,80.29 L360.56,79.68 L360.76,79.07 L360.97,78.46 L361.19,77.85 L361.41,77.25 L361.64,76.65 L361.88,76.05 L362.12,75.46 L362.37,74.87 L362.63,74.29 L362.89,73.7 L363.16,73.12 L363.43,72.55 L363.71,71.97 L364,71.4 L364.29,70.84 L364.59,70.27 L364.9,69.71 L365.21,69.16 L365.53,68.61 L365.85,68.06 L366.19,67.51 L366.52,66.97 L366.87,66.44 L367.21,65.9 L367.57,65.37 L367.93,64.85 L368.3,64.33 L368.67,63.81 L369.05,63.3 L369.43,62.79 L369.82,62.29 L370.22,61.78 L370.62,61.29 L371.02,60.8 L371.44,60.31 L371.85,59.83 L372.28,59.35 L372.71,58.87 L373.14,58.4 L373.58,57.94 L374.03,57.48 L374.48,57.02 L374.93,56.57 L375.4,56.13 L375.86,55.68 L376.34,55.25 L376.81,54.82 L377.3,54.39 L377.78,53.97 L378.28,53.55 L378.78,53.14 L379.28,52.73 L379.79,52.33 L380.3,51.93 L380.82,51.54 L381.34,51.15 L381.87,50.77 L382.4,50.4 L382.94,50.03 L383.48,49.66 L384.03,49.3 L384.59,48.95 L385.14,48.6 L385.7,48.26 L386.27,47.92 L386.84,47.59 L387.42,47.26 L388,46.94 L388.58,46.63 L389.17,46.32 L389.76,46.01 L390.36,45.71 L390.96,45.42 L391.56,45.13 L392.16,44.84 L392.77,44.57 L393.39,44.29 L394,44.02 L394.62,43.76 L395.24,43.5 L395.87,43.24 L396.5,42.99 L397.13,42.75 L397.76,42.51 L398.39,42.27 L399.03,42.04 L399.67,41.81 L400.31,41.59 L400.96,41.37 L401.6,41.16 L402.25,40.95 L402.9,40.74 L403.55,40.54 L404.2,40.34 L404.85,40.15 L405.5,39.96 L406.16,39.78 L406.81,39.59 L407.47,39.42 L408.13,39.25 L408.78,39.08 L409.44,38.91 L410.1,38.75 L410.76,38.59 L411.42,38.44 L412.08,38.29 L412.73,38.14 L413.39,38 L414.05,37.86 L414.71,37.72 L415.36,37.59 L416.02,37.46 L416.68,37.33 L417.33,37.21 L417.98,37.09 L418.64,36.97 L419.29,36.86 L419.94,36.75 L420.59,36.64 L421.23,36.53 L421.88,36.43 L422.52,36.33 L423.16,36.24 L423.8,36.14 L424.44,36.05 L425.08,35.96 L425.71,35.88 L426.34,35.79 L426.97,35.71 L427.59,35.64 L428.21,35.56 L428.83,35.49" stroke="#ec3d40" stroke-width="1.8" fill="none"/>
<path d="M355.19,196.98 L355.21,196.39 L355.23,195.81 L355.25,195.23 L355.27,194.64 L355.29,194.05 L355.31,193.47 L355.32,192.88 L355.34,192.29 L355.36,191.71 L355.37,191.12 L355.39,190.53 L355.41,189.94 L355.42,189.35 L355.44,188.76 L355.45,188.17 L355.47,187.58 L355.48,186.99 L355.49,186.4 L355.51,185.8 L355.52,185.21 L355.54,184.62 L355.55,184.03 L355.57,183.43 L355.58,182.84 L355.6,182.25 L355.61,181.65 L355.63,181.06 L355.65,180.46 L355.66,179.87 L355.68,179.27 L355.7,178.68 L355.72,178.08 L355.73,177.49 L355.75,176.89 L355.77,176.3 L355.79,175.7 L355.81,175.11 L355.84,174.51 L355.86,173.92 L355.88,173.32 L355.91,172.72 L355.93,172.13 L355.96,171.53 L355.98,170.94 L356.01,170.34 L356.04,169.75 L356.07,169.15 L356.1,168.56 L356.13,167.96 L356.17,167.37 L356.2,166.77 L356.24,166.18 L356.27,165.58 L356.31,164.99 L356.35,164.39 L356.39,163.8 L356.44,163.21 L356.48,162.61 L356.52,162.02 L356.57,161.43 L356.62,160.84 L356.67,160.24 L356.72,159.65 L356.78,159.06 L356.83,158.47 L356.89,157.88 L356.95,157.29 L357.01,156.7 L357.07,156.11 L357.14,155.52 L357.21,154.93 L357.27,154.35 L357.35,153.76 L357.42,153.17 L357.49,152.59 L357.57,152 L357.65,151.42 L357.73,150.83 L357.82,150.25 L357.9,149.66 L357.99,149.08 L358.08,148.5 L358.18,147.92 L358.27,147.34 L358.37,146.76 L358.47,146.18 L358.58,145.6 L358.68,145.02 L358.79,144.45 L358.91,143.87 L359.02,143.29 L359.14,142.72 L359.26,142.15 L359.38,141.57 L359.51,141 L359.64,140.43 L359.77,139.86 L359.91,139.29 L360.04,138.72 L360.19,138.15 L360.33,137.59 L360.48,137.02 L360.63,136.46 L360.79,135.89 L360.95,135.33 L361.11,134.77 L361.28,134.21 L361.45,133.64 L361.62,133.08 L361.8,132.53 L361.98,131.97 L362.17,131.41 L362.36,130.86 L362.55,130.3 L362.75,129.75 L362.96,129.19 L363.16,128.64 L363.38,128.09 L363.59,127.54 L363.81,126.99 L364.04,126.44 L364.27,125.9 L364.5,125.35 L364.74,124.8 L364.99,124.26 L365.24,123.72 L365.49,123.17 L365.75,122.63 L366.02,122.09 L366.29,121.55 L366.56,121.02 L366.84,120.48 L367.13,119.94 L367.42,119.41 L367.72,118.87 L368.02,118.34 L368.33,117.81 L368.64,117.28 L368.96,116.75 L369.29,116.22 L369.62,115.69 L369.96,115.17 L370.3,114.64 L370.65,114.12 L371.01,113.6 L371.37,113.07 L371.74,112.55 L372.11,112.03 L372.49,111.51 L372.88,111 L373.28,110.48 L373.68,109.98 L374.08,109.48 L374.49,109.01 L374.9,108.55 L375.31,108.12 L375.73,107.72 L376.15,107.36 L376.57,107.04 L376.98,106.77 L377.4,106.54 L377.82,106.37 L378.23,106.26 L378.64,106.21 L379.04,106.23 L379.44,106.32 L379.84,106.47 L380.23,106.68 L380.62,106.95 L381,107.27 L381.38,107.64 L381.75,108.05 L382.11,108.5 L382.47,108.99 L382.82,109.51 L383.16,110.06 L383.49,110.64 L383.82,111.23 L384.14,111.84 L384.45,112.47 L384.75,113.1 L385.04,113.74 L385.32,114.39 L385.6,115.02 L385.86,115.66 L386.11,116.28 L386.36,116.91 L386.6,117.53 L386.83,118.14 L387.05,118.75 L387.27,119.35 L387.48,119.95 L387.69,120.54 L387.9,121.13 L388.1,121.71 L388.29,122.29 L388.49,122.86 L388.68,123.43 L388.88,124 L389.07,124.56 L389.26,125.11 L389.46,125.66 L389.65,126.21 L389.85,126.76 L390.05,127.29 L390.26,127.83 L390.47,128.36 L390.68,128.89 L390.9,129.41 L391.12,129.93 L391.35,130.45 L391.59,130.96 L391.84,131.47 L392.09,131.97 L392.36,132.47 L392.63,132.97 L392.92,133.47 L393.21,133.96 L393.51,134.45 L393.83,134.93 L394.15,135.41 L394.48,135.89 L394.82,136.36 L395.17,136.84 L395.52,137.3 L395.88,137.77 L396.25,138.23 L396.62,138.69 L397,139.14 L397.38,139.59 L397.77,140.04 L398.16,140.48 L398.56,140.92 L398.96,141.36 L399.37,141.79 L399.77,142.22 L400.19,142.65 L400.6,143.07 L401.02,143.49 L401.44,143.91 L401.86,144.32 L402.29,144.73 L402.72,145.14 L403.15,145.55 L403.58,145.95 L404.02,146.35 L404.46,146.75 L404.9,147.15 L405.34,147.54 L405.79,147.93 L406.24,148.32 L406.69,148.71 L407.14,149.09 L407.6,149.47 L408.05,149.85 L408.51,150.23 L408.97,150.61 L409.43,150.98 L409.89,151.36 L410.36,151.73 L410.82,152.1 L411.29,152.47 L411.76,152.84 L412.22,153.2 L412.69,153.57 L413.16,153.93 L413.64,154.3 L414.11,154.66 L414.58,155.02 L415.05,155.38 L415.53,155.74 L416,156.1 L416.48,156.46 L416.95,156.82 L417.43,157.17 L417.9,157.53 L418.38,157.89 L418.85,158.25 L419.33,158.6 L419.8,158.96 L420.28,159.31 L420.75,159.67 L421.23,160.03 L421.7,160.39 L422.17,160.74 L422.64,161.1 L423.12,161.46 L423.59,161.82 L424.05,162.18 L424.52,162.54 L424.99,162.9 L425.46,163.26 L425.92,163.62 L426.38,163.98 L426.85,164.35 L427.31,164.71 L427.76,165.08 L428.22,165.45 L428.68,165.82" stroke="#ec3d40" stroke-width="2" fill="none" stroke-dasharray="5 3"/>
<line x1="280.5" y1="17.5" x2="428.7" y2="17.5" stroke="#777" stroke-width="1"/>
<line x1="428.7" y1="17.5" x2="428.7" y2="197.5" stroke="#333" stroke-width="1.3"/>
<line x1="280.5" y1="197.5" x2="428.7" y2="197.5" stroke="#666" stroke-width="1"/>
<line x1="280.5" y1="17.5" x2="280.5" y2="197.5" stroke="#666" stroke-width="1"/>
<line x1="280.5" y1="30.3" x2="283.5" y2="30.3" stroke="#5a5a5a" stroke-width="1"/>
<line x1="280.5" y1="48.3" x2="283.5" y2="48.3" stroke="#5a5a5a" stroke-width="1"/>
<line x1="280.5" y1="66.3" x2="283.5" y2="66.3" stroke="#5a5a5a" stroke-width="1"/>
<line x1="280.5" y1="84.3" x2="283.5" y2="84.3" stroke="#5a5a5a" stroke-width="1"/>
<line x1="280.5" y1="102.3" x2="283.5" y2="102.3" stroke="#5a5a5a" stroke-width="1"/>
<line x1="280.5" y1="120.3" x2="283.5" y2="120.3" stroke="#5a5a5a" stroke-width="1"/>
<line x1="280.5" y1="138.3" x2="283.5" y2="138.3" stroke="#5a5a5a" stroke-width="1"/>
<line x1="280.5" y1="156.3" x2="283.5" y2="156.3" stroke="#5a5a5a" stroke-width="1"/>
<line x1="280.5" y1="174.3" x2="283.5" y2="174.3" stroke="#5a5a5a" stroke-width="1"/>
<line x1="280.5" y1="192.3" x2="283.5" y2="192.3" stroke="#5a5a5a" stroke-width="1"/>
<text class="s" x="276.3" y="29.8" font-size="6.3" text-anchor="end" fill="#1a1a1a" textLength="3.8" lengthAdjust="spacingAndGlyphs">-3</text>
<text class="s" x="271.5" y="32.9" font-size="8.6" text-anchor="end" fill="#1a1a1a">10</text>
<text class="s" x="276.3" y="65.8" font-size="6.3" text-anchor="end" fill="#1a1a1a" textLength="3.8" lengthAdjust="spacingAndGlyphs">-5</text>
<text class="s" x="271.5" y="68.9" font-size="8.6" text-anchor="end" fill="#1a1a1a">10</text>
<text class="s" x="276.3" y="101.8" font-size="6.3" text-anchor="end" fill="#1a1a1a" textLength="3.8" lengthAdjust="spacingAndGlyphs">-7</text>
<text class="s" x="271.5" y="104.9" font-size="8.6" text-anchor="end" fill="#1a1a1a">10</text>
<text class="s" x="276.3" y="137.8" font-size="6.3" text-anchor="end" fill="#1a1a1a" textLength="3.8" lengthAdjust="spacingAndGlyphs">-9</text>
<text class="s" x="271.5" y="140.9" font-size="8.6" text-anchor="end" fill="#1a1a1a">10</text>
<text class="s" x="276.3" y="173.8" font-size="6.3" text-anchor="end" fill="#1a1a1a" textLength="6.8" lengthAdjust="spacingAndGlyphs">-11</text>
<text class="s" x="268.5" y="176.9" font-size="8.6" text-anchor="end" fill="#1a1a1a">10</text>
<line x1="425.7" y1="197.3" x2="428.7" y2="197.3" stroke="#333" stroke-width="1"/>
<text class="s" x="430.9" y="200.3" font-size="8.3" text-anchor="start" fill="#1a1a1a">0</text>
<line x1="425.7" y1="168.7" x2="428.7" y2="168.7" stroke="#333" stroke-width="1"/>
<text class="s" x="430.9" y="171.7" font-size="8.3" text-anchor="start" fill="#1a1a1a">4</text>
<line x1="425.7" y1="140.1" x2="428.7" y2="140.1" stroke="#333" stroke-width="1"/>
<text class="s" x="430.9" y="143.1" font-size="8.3" text-anchor="start" fill="#1a1a1a">8</text>
<line x1="425.7" y1="111.5" x2="428.7" y2="111.5" stroke="#333" stroke-width="1"/>
<text class="s" x="430.9" y="114.5" font-size="8.3" text-anchor="start" fill="#1a1a1a">12</text>
<line x1="425.7" y1="82.9" x2="428.7" y2="82.9" stroke="#333" stroke-width="1"/>
<text class="s" x="430.9" y="85.9" font-size="8.3" text-anchor="start" fill="#1a1a1a">16</text>
<line x1="425.7" y1="54.3" x2="428.7" y2="54.3" stroke="#333" stroke-width="1"/>
<text class="s" x="430.9" y="57.3" font-size="8.3" text-anchor="start" fill="#1a1a1a">20</text>
<line x1="425.7" y1="25.7" x2="428.7" y2="25.7" stroke="#333" stroke-width="1"/>
<text class="s" x="430.9" y="28.7" font-size="8.3" text-anchor="start" fill="#1a1a1a">24</text>
<line x1="280.8" y1="197.5" x2="280.8" y2="194.5" stroke="#5a5a5a" stroke-width="1"/>
<text class="s" x="280.8" y="206.2" font-size="7.2" text-anchor="middle" fill="#1a1a1a">-30</text>
<line x1="305.5" y1="197.5" x2="305.5" y2="194.5" stroke="#5a5a5a" stroke-width="1"/>
<text class="s" x="305.5" y="206.2" font-size="7.2" text-anchor="middle" fill="#1a1a1a">-20</text>
<line x1="330.2" y1="197.5" x2="330.2" y2="194.5" stroke="#5a5a5a" stroke-width="1"/>
<text class="s" x="330.2" y="206.2" font-size="7.2" text-anchor="middle" fill="#1a1a1a">-10</text>
<line x1="354.9" y1="197.5" x2="354.9" y2="194.5" stroke="#5a5a5a" stroke-width="1"/>
<text class="s" x="354.9" y="206.2" font-size="7.2" text-anchor="middle" fill="#1a1a1a">0</text>
<line x1="379.6" y1="197.5" x2="379.6" y2="194.5" stroke="#5a5a5a" stroke-width="1"/>
<text class="s" x="379.6" y="206.2" font-size="7.2" text-anchor="middle" fill="#1a1a1a">10</text>
<line x1="404.3" y1="197.5" x2="404.3" y2="194.5" stroke="#5a5a5a" stroke-width="1"/>
<text class="s" x="404.3" y="206.2" font-size="7.2" text-anchor="middle" fill="#1a1a1a">20</text>
<line x1="429" y1="197.5" x2="429" y2="194.5" stroke="#5a5a5a" stroke-width="1"/>
<text class="s" x="429" y="206.2" font-size="7.2" text-anchor="middle" fill="#1a1a1a">30</text>
<text class="n" x="2" y="36.3" font-size="16.5" text-anchor="start" fill="#1a1a1a">(a)</text>
<text class="s" x="70.6" y="29.8" font-size="8.8" text-anchor="start" fill="#1a1a1a" textLength="37.3" lengthAdjust="spacingAndGlyphs">LV IGZO</text>
<line x1="70.1" y1="36.9" x2="90" y2="36.9" stroke="#404040" stroke-width="2"/>
<text class="s" x="91.1" y="39.5" font-size="8.2" text-anchor="start" fill="#1a1a1a" textLength="35.6" lengthAdjust="spacingAndGlyphs">V<tspan font-size="5.8" dy="2.1">D</tspan><tspan dy="-2.1"> = 10 V</tspan></text>
<line x1="70.1" y1="47.7" x2="90" y2="47.7" stroke="#c8c8c8" stroke-width="1.6"/>
<text class="s" x="91.1" y="50.7" font-size="8.2" text-anchor="start" fill="#1a1a1a" textLength="38.4" lengthAdjust="spacingAndGlyphs">V<tspan font-size="5.8" dy="2.1">D</tspan><tspan dy="-2.1"> = 0.1 V</tspan></text>
<text class="n" x="226.5" y="35.5" font-size="16.5" text-anchor="start" fill="#1a1a1a">(b)</text>
<text class="s" x="287.5" y="29.8" font-size="8.8" text-anchor="start" fill="#1a1a1a" textLength="39.6" lengthAdjust="spacingAndGlyphs">HV IGZO</text>
<line x1="286.9" y1="36.9" x2="306.5" y2="36.9" stroke="#ec3d40" stroke-width="2"/>
<text class="s" x="307.6" y="39.5" font-size="8.2" text-anchor="start" fill="#1a1a1a" textLength="35.6" lengthAdjust="spacingAndGlyphs">V<tspan font-size="5.8" dy="2.1">D</tspan><tspan dy="-2.1"> = 10 V</tspan></text>
<line x1="286.9" y1="47.7" x2="306.5" y2="47.7" stroke="#e98d8f" stroke-width="1.6"/>
<text class="s" x="307.6" y="50.7" font-size="8.2" text-anchor="start" fill="#1a1a1a" textLength="38.4" lengthAdjust="spacingAndGlyphs">V<tspan font-size="5.8" dy="2.1">D</tspan><tspan dy="-2.1"> = 0.1 V</tspan></text>
<text transform="translate(40,107.2) rotate(-90)" font-size="12.5" text-anchor="middle" fill="#1a1a1a">I<tspan font-size="8.5" dy="3">DS</tspan><tspan dy="-3"> (A)</tspan></text>
<text transform="translate(237,108) rotate(-90)" font-size="12" text-anchor="middle" fill="#1a1a1a" textLength="73" lengthAdjust="spacingAndGlyphs">μ<tspan font-size="8.16" dy="3">FET</tspan><tspan dy="-3"> (cm</tspan><tspan font-size="8.16" dy="-4.5">2</tspan><tspan dy="4.5">/Vs)</tspan></text>
<text x="137.6" y="222.4" font-size="12.8" text-anchor="middle" fill="#1a1a1a" textLength="45.5" lengthAdjust="spacingAndGlyphs">V<tspan font-size="9.22" dy="2.6">GS</tspan><tspan dy="-2.6"> (V)</tspan></text>
<text transform="translate(255,107.5) rotate(-90)" font-size="12.5" text-anchor="middle" fill="#1a1a1a">I<tspan font-size="8.5" dy="3">DS</tspan><tspan dy="-3"> (A)</tspan></text>
<text transform="translate(456.2,108) rotate(-90)" font-size="12" text-anchor="middle" fill="#1a1a1a" textLength="73" lengthAdjust="spacingAndGlyphs">μ<tspan font-size="8.16" dy="3">FET</tspan><tspan dy="-3"> (cm</tspan><tspan font-size="8.16" dy="-4.5">2</tspan><tspan dy="4.5">/Vs)</tspan></text>
<text x="354.9" y="222.4" font-size="12.8" text-anchor="middle" fill="#1a1a1a" textLength="45.5" lengthAdjust="spacingAndGlyphs">V<tspan font-size="9.22" dy="2.6">GS</tspan><tspan dy="-2.6"> (V)</tspan></text>
<path d="M496.7,184.03 L497.4,183.05 L498.1,183.31 L498.8,183.46 L499.5,184.66 L500.2,184.03 L500.9,183.73 L501.6,184.13 L502.3,184.16 L503,184.05 L503.7,184.45 L504.4,186.08 L505.1,185.39 L505.8,186.86 L506.5,185.93 L507.2,186.26 L507.9,187.01 L508.6,186.74 L509.3,187.37 L510,188.72 L510.7,188.33 L511.4,187.93 L512.1,187.34 L512.8,187.58 L513.5,187.36 L514.2,186.39 L514.9,186.43 L515.6,185.33 L516.3,186.73 L517,186.39 L517.7,187.1 L518.4,187.08 L519.1,186.6 L519.8,186.34 L520.5,187.83 L521.2,186.19 L521.9,186.62 L522.6,186.19 L523.3,185.91 L524,186.51 L524.7,186.74 L525.4,185.24 L526.1,185.72 L526.8,184.85 L527.5,185.08 L528.2,184.56 L528.9,183.92 L529.6,183.68 L530.3,183.53 L531,184.56 L531.7,183.59 L532.4,183.31 L533.1,185.09 L533.8,185.8 L534.5,185.36 L535.2,185.35 L535.9,185.99 L536.6,186.35 L537.3,187.04 L538,186.4 L538.7,186.48 L539.4,186.33 L540.1,186.7 L540.8,187.08 L541.5,186.65 L542.2,185.86 L542.9,185.67 L543.6,186.04 L544.3,185.99 L545,186.15 L545.7,185.88 L546.4,186.49 L547.1,187.95 L547.8,186.66 L548.5,187.24 L549.2,187.24 L549.9,187.44 L550.6,186.04 L551.3,185.92 L552,185.65 L552.7,185.74 L553.4,185.64 L554.1,186.37 L554.8,185.99 L555.5,185.85 L556.2,184.14 L556.9,183.97 L557.6,185.01 L558.3,185.16 L559,184.21 L559.7,184.24 L560.4,183.07 L561.1,183.72 L561.8,184.62 L562.5,184.39 L563.2,184.38 L563.9,184.54 L564.6,183.18 L565.3,182.95 L566,183.16 L566.7,183.95 L567.4,184.37 L568.1,184.96 L568.8,184.7 L569.5,184.69 L570.2,185.03 L570.9,184.6 L571.6,184.75 L572.3,183.78 L573,185.07 L573.7,184.04 L574,185.26 L574,197 L573.7,197 L573,197 L572.3,197 L571.6,197 L570.9,197 L570.2,197 L569.5,197 L568.8,197 L568.1,197 L567.4,197 L566.7,197 L566,197 L565.3,197 L564.6,197 L563.9,197 L563.2,197 L562.5,197 L561.8,197 L561.1,197 L560.4,197 L559.7,197 L559,197 L558.3,197 L557.6,197 L556.9,197 L556.2,197 L555.5,197 L554.8,197 L554.1,197 L553.4,197 L552.7,197 L552,197 L551.3,197 L550.6,197 L549.9,197 L549.2,197 L548.5,197 L547.8,197 L547.1,197 L546.4,197 L545.7,197 L545,197 L544.3,197 L543.6,197 L542.9,197 L542.2,197 L541.5,197 L540.8,197 L540.1,197 L539.4,197 L538.7,197 L538,197 L537.3,197 L536.6,197 L535.9,197 L535.2,197 L534.5,197 L533.8,197 L533.1,197 L532.4,197 L531.7,197 L531,197 L530.3,197 L529.6,197 L528.9,197 L528.2,197 L527.5,197 L526.8,197 L526.1,197 L525.4,197 L524.7,197 L524,197 L523.3,197 L522.6,197 L521.9,197 L521.2,197 L520.5,197 L519.8,197 L519.1,197 L518.4,197 L517.7,197 L517,197 L516.3,197 L515.6,197 L514.9,197 L514.2,197 L513.5,197 L512.8,197 L512.1,197 L511.4,197 L510.7,197 L510,197 L509.3,197 L508.6,197 L507.9,197 L507.2,197 L506.5,197 L505.8,197 L505.1,197 L504.4,197 L503.7,197 L503,197 L502.3,197 L501.6,197 L500.9,197 L500.2,197 L499.5,197 L498.8,197 L498.1,197 L497.4,197 L496.7,197Z" stroke="none" stroke-width="1" fill="#505050"/>
<path d="M496.7,195.15 L497.2,194.8 L497.7,184 L498.2,184 L498.7,184 L499.2,184 L499.7,184 L500.2,192.37 L500.7,195.02 L501.2,195.08 L501.7,192.69 L502.2,192.52 L502.7,192.9 L503.2,192.31 L503.7,192.6 L504.2,192.76 L504.7,195.46 L505.2,195.14 L505.7,195.38 L506.2,192.78 L506.7,192.53 L507.2,192.55 L507.7,193.26 L508.2,193 L508.7,192.61 L509.2,194.52 L509.7,195 L510.2,192.97 L510.7,192.72 L511.2,192.56 L511.7,192.97 L512.2,193.23 L512.7,192.53 L513.2,194.53 L513.7,194.84 L514.2,194.92 L514.7,192.98 L515.2,192.5 L515.7,193.1 L516.2,193.04 L516.7,192.8 L517.2,192.51 L517.7,195.47 L518.2,194.81 L518.7,195.32 L519.2,192.53 L519.7,192.52 L520.2,193.06 L520.7,192.59 L521.2,193.25 L521.7,192.8 L522.2,194.69 L522.7,194.72 L523.2,192.72 L523.7,192.97 L524.2,193.25 L524.7,192.45 L525.2,192.69 L525.7,192.51 L526.2,195.47 L526.7,194.64 L527.2,194.55 L527.7,192.36 L528.2,192.69 L528.7,193.2 L529.2,193.18 L529.7,193.03 L530.2,193.3 L530.7,195.43 L531.2,194.83 L531.7,192.49 L532.2,193.24 L532.7,193.05 L533.2,192.33 L533.7,192.96 L534.2,192.68 L534.7,194.87 L535.2,194.83 L535.7,194.67 L536.2,192.3 L536.7,192.58 L537.2,192.65 L537.7,193.26 L538.2,192.42 L538.7,193.26 L539.2,194.71 L539.7,194.86 L540.2,195.32 L540.7,193.12 L541.2,192.73 L541.7,192.35 L542.2,192.77 L542.7,192.67 L543.2,193.22 L543.7,194.69 L544.2,194.86 L544.7,193.2 L545.2,192.33 L545.7,192.71 L546.2,193.11 L546.7,193.07 L547.2,192.34 L547.7,194.53 L548.2,194.56 L548.7,195.42 L549.2,192.56 L549.7,193.05 L550.2,193.2 L550.7,192.64 L551.2,192.57 L551.7,193.26 L552.2,195.12 L552.7,194.76 L553.2,193.02 L553.7,192.62 L554.2,192.58 L554.7,192.3 L555.2,193.06 L555.7,193.22 L556.2,195.13 L556.7,195.44 L557.2,194.52 L557.7,192.53 L558.2,192.78 L558.7,193.26 L559.2,193.25 L559.7,192.69 L560.2,192.55 L560.7,194.93 L561.2,194.99 L561.7,195.43 L562.2,192.48 L562.7,193.1 L563.2,193.04 L563.7,193.12 L564.2,193.07 L564.7,192.91 L565.2,194.83 L565.7,194.82 L566.2,192.66 L566.7,193.08 L567.2,192.38 L567.7,192.5 L568.2,193.05 L568.7,192.55 L569.2,194.56 L569.7,194.53 L570.2,195.05 L570.7,192.63 L571.2,193.28 L571.7,193.18 L572.2,193.29 L572.7,192.56 L573.2,192.38 L573.7,194.6 L574,195 L574,206.6 L573.7,206.6 L573.2,206.6 L572.7,206.6 L572.2,206.6 L571.7,206.6 L571.2,206.6 L570.7,206.6 L570.2,206.6 L569.7,206.6 L569.2,206.6 L568.7,206.6 L568.2,206.6 L567.7,206.6 L567.2,206.6 L566.7,206.6 L566.2,206.6 L565.7,206.6 L565.2,206.6 L564.7,206.6 L564.2,206.6 L563.7,206.6 L563.2,206.6 L562.7,206.6 L562.2,206.6 L561.7,206.6 L561.2,206.6 L560.7,206.6 L560.2,206.6 L559.7,206.6 L559.2,206.6 L558.7,206.6 L558.2,206.6 L557.7,206.6 L557.2,206.6 L556.7,206.6 L556.2,206.6 L555.7,206.6 L555.2,206.6 L554.7,206.6 L554.2,206.6 L553.7,206.6 L553.2,206.6 L552.7,206.6 L552.2,206.6 L551.7,206.6 L551.2,206.6 L550.7,206.6 L550.2,206.6 L549.7,206.6 L549.2,206.6 L548.7,206.6 L548.2,206.6 L547.7,206.6 L547.2,206.6 L546.7,206.6 L546.2,206.6 L545.7,206.6 L545.2,206.6 L544.7,206.6 L544.2,206.6 L543.7,206.6 L543.2,206.6 L542.7,206.6 L542.2,206.6 L541.7,206.6 L541.2,206.6 L540.7,206.6 L540.2,206.6 L539.7,206.6 L539.2,206.6 L538.7,206.6 L538.2,206.6 L537.7,206.6 L537.2,206.6 L536.7,206.6 L536.2,206.6 L535.7,206.6 L535.2,206.6 L534.7,206.6 L534.2,206.6 L533.7,206.6 L533.2,206.6 L532.7,206.6 L532.2,206.6 L531.7,206.6 L531.2,206.6 L530.7,206.6 L530.2,206.6 L529.7,206.6 L529.2,206.6 L528.7,206.6 L528.2,206.6 L527.7,206.6 L527.2,206.6 L526.7,206.6 L526.2,206.6 L525.7,206.6 L525.2,206.6 L524.7,206.6 L524.2,206.6 L523.7,206.6 L523.2,206.6 L522.7,206.6 L522.2,206.6 L521.7,206.6 L521.2,206.6 L520.7,206.6 L520.2,206.6 L519.7,206.6 L519.2,206.6 L518.7,206.6 L518.2,206.6 L517.7,206.6 L517.2,206.6 L516.7,206.6 L516.2,206.6 L515.7,206.6 L515.2,206.6 L514.7,206.6 L514.2,206.6 L513.7,206.6 L513.2,206.6 L512.7,206.6 L512.2,206.6 L511.7,206.6 L511.2,206.6 L510.7,206.6 L510.2,206.6 L509.7,206.6 L509.2,206.6 L508.7,206.6 L508.2,206.6 L507.7,206.6 L507.2,206.6 L506.7,206.6 L506.2,206.6 L505.7,206.6 L505.2,206.6 L504.7,206.6 L504.2,206.6 L503.7,206.6 L503.2,206.6 L502.7,206.6 L502.2,206.6 L501.7,206.6 L501.2,206.6 L500.7,206.6 L500.2,206.6 L499.7,206.6 L499.2,206.6 L498.7,206.6 L498.2,206.6 L497.7,206.6 L497.2,206.6 L496.7,206.6Z" stroke="none" stroke-width="1" fill="#ec3d40"/>
<path d="M574.24,206.97 L574.26,206.45 L574.27,205.93 L574.28,205.41 L574.29,204.89 L574.3,204.36 L574.31,203.84 L574.32,203.32 L574.34,202.79 L574.35,202.27 L574.36,201.75 L574.37,201.22 L574.38,200.7 L574.39,200.17 L574.4,199.65 L574.41,199.12 L574.42,198.59 L574.43,198.07 L574.44,197.54 L574.45,197.01 L574.47,196.49 L574.48,195.96 L574.49,195.43 L574.5,194.9 L574.51,194.37 L574.53,193.85 L574.54,193.32 L574.55,192.79 L574.57,192.26 L574.58,191.73 L574.59,191.2 L574.61,190.67 L574.62,190.14 L574.64,189.61 L574.66,189.08 L574.67,188.55 L574.69,188.02 L574.71,187.49 L574.72,186.96 L574.74,186.43 L574.76,185.9 L574.78,185.37 L574.8,184.84 L574.82,184.31 L574.85,183.78 L574.87,183.25 L574.89,182.72 L574.92,182.19 L574.94,181.66 L574.97,181.13 L574.99,180.6 L575.02,180.07 L575.05,179.54 L575.08,179.01 L575.11,178.48 L575.14,177.95 L575.17,177.42 L575.2,176.89 L575.24,176.36 L575.27,175.83 L575.31,175.3 L575.34,174.77 L575.38,174.24 L575.42,173.71 L575.46,173.18 L575.5,172.65 L575.54,172.12 L575.59,171.59 L575.63,171.07 L575.68,170.54 L575.72,170.01 L575.77,169.48 L575.82,168.95 L575.87,168.43 L575.93,167.9 L575.98,167.37 L576.03,166.85 L576.09,166.32 L576.15,165.79 L576.21,165.27 L576.27,164.74 L576.33,164.22 L576.39,163.69 L576.46,163.17 L576.53,162.64 L576.6,162.12 L576.66,161.6 L576.74,161.07 L576.81,160.55 L576.88,160.03 L576.96,159.5 L577.04,158.98 L577.12,158.46 L577.2,157.94 L577.28,157.42 L577.37,156.9 L577.46,156.38 L577.54,155.86 L577.63,155.34 L577.73,154.82 L577.82,154.31 L577.92,153.79 L578.02,153.27 L578.12,152.76 L578.22,152.24 L578.32,151.72 L578.43,151.21 L578.53,150.7 L578.64,150.18 L578.76,149.67 L578.87,149.16 L578.99,148.64 L579.11,148.13 L579.23,147.62 L579.35,147.11 L579.47,146.6 L579.6,146.09 L579.73,145.58 L579.86,145.08 L580,144.57 L580.13,144.06 L580.27,143.56 L580.41,143.05 L580.56,142.55 L580.7,142.04 L580.85,141.54 L581,141.04 L581.15,140.54 L581.31,140.03 L581.47,139.53 L581.63,139.04 L581.79,138.54 L581.96,138.04 L582.13,137.54 L582.3,137.05 L582.48,136.55 L582.66,136.06 L582.84,135.56 L583.03,135.07 L583.22,134.58 L583.41,134.09 L583.61,133.6 L583.82,133.12 L584.02,132.63 L584.24,132.15 L584.45,131.66 L584.68,131.18 L584.9,130.7 L585.14,130.22 L585.37,129.75 L585.62,129.27 L585.87,128.8 L586.12,128.33 L586.38,127.86 L586.65,127.39 L586.92,126.92 L587.2,126.46 L587.49,126 L587.78,125.54 L588.08,125.08 L588.39,124.63 L588.71,124.18 L589.03,123.73 L589.36,123.29 L589.7,122.85 L590.05,122.42 L590.41,122 L590.78,121.58 L591.16,121.17 L591.55,120.76 L591.95,120.36 L592.36,119.97 L592.78,119.59 L593.21,119.22 L593.64,118.87 L594.09,118.53 L594.54,118.22 L594.99,117.93 L595.45,117.66 L595.9,117.42 L596.36,117.22 L596.81,117.04 L597.27,116.91 L597.72,116.81 L598.16,116.76 L598.6,116.75 L599.03,116.79 L599.46,116.88 L599.87,117.02 L600.28,117.21 L600.67,117.44 L601.06,117.7 L601.44,118.01 L601.81,118.34 L602.17,118.7 L602.53,119.09 L602.88,119.5 L603.22,119.92 L603.55,120.36 L603.88,120.81 L604.2,121.26 L604.51,121.72 L604.82,122.18 L605.12,122.65 L605.41,123.11 L605.7,123.58 L605.99,124.05 L606.28,124.53 L606.56,125 L606.84,125.47 L607.11,125.94 L607.39,126.42 L607.67,126.89 L607.94,127.36 L608.22,127.83 L608.5,128.3 L608.78,128.76 L609.06,129.23 L609.34,129.69 L609.62,130.14 L609.91,130.6 L610.2,131.05 L610.49,131.5 L610.79,131.95 L611.08,132.39 L611.38,132.83 L611.69,133.27 L611.99,133.71 L612.3,134.14 L612.61,134.57 L612.92,134.99 L613.24,135.41 L613.56,135.83 L613.88,136.25 L614.21,136.66 L614.54,137.07 L614.87,137.47 L615.21,137.87 L615.55,138.27 L615.9,138.66 L616.24,139.05 L616.6,139.43 L616.95,139.81 L617.31,140.19 L617.68,140.56 L618.05,140.92 L618.42,141.29 L618.8,141.65 L619.18,142 L619.57,142.35 L619.96,142.69 L620.35,143.03 L620.76,143.37 L621.16,143.7 L621.57,144.03 L621.98,144.35 L622.4,144.67 L622.82,144.98 L623.25,145.29 L623.67,145.6 L624.1,145.91 L624.54,146.21 L624.98,146.51 L625.41,146.8 L625.86,147.1 L626.3,147.39 L626.75,147.68 L627.19,147.96 L627.64,148.25 L628.09,148.53 L628.55,148.81 L629,149.09 L629.45,149.37 L629.91,149.65 L630.36,149.93 L630.82,150.2 L631.28,150.48 L631.73,150.76 L632.19,151.03 L632.65,151.31 L633.1,151.58 L633.56,151.86 L634.01,152.13 L634.46,152.41 L634.92,152.69 L635.37,152.97 L635.82,153.24 L636.26,153.53 L636.71,153.81 L637.15,154.09 L637.6,154.38 L638.03,154.66 L638.47,154.95 L638.9,155.24 L639.34,155.54 L639.76,155.83 L640.19,156.13 L640.61,156.44 L641.03,156.74 L641.44,157.05" stroke="#404040" stroke-width="2.1" fill="none" stroke-dasharray="4.5 2.8"/>
<path d="M575.58,207.02 L575.59,206.1 L575.61,205.17 L575.62,204.24 L575.63,203.32 L575.65,202.39 L575.66,201.47 L575.67,200.55 L575.69,199.62 L575.7,198.7 L575.71,197.78 L575.73,196.86 L575.74,195.93 L575.76,195.01 L575.77,194.09 L575.79,193.17 L575.8,192.25 L575.82,191.33 L575.84,190.41 L575.85,189.49 L575.87,188.57 L575.88,187.66 L575.9,186.74 L575.92,185.82 L575.93,184.9 L575.95,183.99 L575.97,183.07 L575.99,182.15 L576,181.23 L576.02,180.32 L576.04,179.4 L576.06,178.49 L576.08,177.57 L576.09,176.65 L576.11,175.74 L576.13,174.82 L576.15,173.91 L576.17,172.99 L576.19,172.08 L576.21,171.16 L576.23,170.25 L576.25,169.34 L576.27,168.42 L576.29,167.51 L576.31,166.59 L576.33,165.68 L576.35,164.76 L576.37,163.85 L576.39,162.94 L576.41,162.02 L576.43,161.11 L576.45,160.19 L576.47,159.28 L576.5,158.37 L576.52,157.45 L576.54,156.54 L576.56,155.62 L576.58,154.71 L576.61,153.8 L576.63,152.88 L576.65,151.97 L576.67,151.05 L576.7,150.14 L576.72,149.22 L576.74,148.31 L576.76,147.39 L576.79,146.48 L576.81,145.56 L576.83,144.65 L576.86,143.73 L576.88,142.81 L576.91,141.9 L576.93,140.98 L576.95,140.06 L576.98,139.15 L577,138.23 L577.03,137.31 L577.05,136.39 L577.08,135.48 L577.1,134.56 L577.13,133.64 L577.15,132.72 L577.18,131.8 L577.2,130.88 L577.23,129.96 L577.25,129.04 L577.28,128.12 L577.31,127.2 L577.33,126.28 L577.36,125.35 L577.38,124.43 L577.41,123.51 L577.44,122.59 L577.46,121.66 L577.49,120.74 L577.52,119.81 L577.54,118.89 L577.57,117.96 L577.6,117.04 L577.62,116.11 L577.65,115.18 L577.68,114.26 L577.71,113.33 L577.73,112.4 L577.77,111.47 L577.8,110.54 L577.84,109.62 L577.89,108.69 L577.94,107.77 L577.99,106.84 L578.06,105.92 L578.13,105 L578.21,104.09 L578.3,103.17 L578.4,102.26 L578.52,101.35 L578.64,100.45 L578.78,99.54 L578.93,98.64 L579.1,97.75 L579.28,96.86 L579.48,95.97 L579.7,95.09 L579.93,94.22 L580.19,93.35 L580.46,92.48 L580.76,91.62 L581.07,90.77 L581.41,89.92 L581.77,89.08 L582.16,88.25 L582.57,87.42 L582.99,86.6 L583.44,85.78 L583.89,84.96 L584.35,84.15 L584.81,83.33 L585.26,82.51 L585.71,81.69 L586.13,80.86 L586.54,80.02 L586.93,79.17 L587.29,78.32 L587.64,77.46 L587.96,76.6 L588.27,75.73 L588.56,74.85 L588.83,73.98 L589.09,73.1 L589.33,72.22 L589.57,71.34 L589.78,70.46 L589.99,69.58 L590.19,68.71 L590.37,67.83 L590.55,66.97 L590.72,66.1 L590.89,65.24 L591.06,64.38 L591.24,63.51 L591.42,62.64 L591.62,61.76 L591.84,60.87 L592.08,59.97 L592.35,59.05 L592.65,58.11 L592.99,57.15 L593.36,56.17 L593.78,55.17 L594.25,54.19 L594.75,53.29 L595.28,52.54 L595.85,52.01 L596.44,51.77 L597.06,51.87 L597.68,52.27 L598.3,52.92 L598.88,53.73 L599.42,54.63 L599.91,55.54 L600.33,56.46 L600.69,57.37 L601,58.29 L601.27,59.2 L601.5,60.11 L601.7,61.02 L601.87,61.92 L602.02,62.83 L602.15,63.73 L602.27,64.64 L602.39,65.54 L602.51,66.44 L602.63,67.34 L602.77,68.23 L602.91,69.13 L603.07,70.02 L603.24,70.92 L603.42,71.81 L603.61,72.7 L603.8,73.59 L604.01,74.47 L604.23,75.36 L604.45,76.25 L604.68,77.13 L604.92,78.01 L605.17,78.89 L605.42,79.77 L605.68,80.65 L605.95,81.53 L606.23,82.41 L606.51,83.28 L606.79,84.16 L607.08,85.03 L607.38,85.9 L607.68,86.78 L607.98,87.65 L608.29,88.51 L608.6,89.38 L608.91,90.25 L609.23,91.12 L609.55,91.98 L609.87,92.85 L610.2,93.71 L610.52,94.57 L610.85,95.43 L611.18,96.29 L611.51,97.15 L611.84,98.01 L612.16,98.87 L612.49,99.73 L612.82,100.58 L613.15,101.44 L613.48,102.3 L613.8,103.15 L614.13,104 L614.46,104.86 L614.79,105.71 L615.12,106.56 L615.45,107.41 L615.79,108.26 L616.12,109.11 L616.46,109.96 L616.8,110.8 L617.14,111.65 L617.48,112.5 L617.83,113.34 L618.17,114.18 L618.53,115.03 L618.88,115.87 L619.24,116.71 L619.6,117.55 L619.97,118.4 L620.34,119.24 L620.71,120.08 L621.09,120.91 L621.47,121.75 L621.86,122.59 L622.25,123.43 L622.65,124.26 L623.05,125.09 L623.46,125.92 L623.87,126.75 L624.29,127.57 L624.72,128.4 L625.15,129.21 L625.59,130.02 L626.04,130.83 L626.49,131.63 L626.95,132.43 L627.41,133.22 L627.89,134.01 L628.37,134.78 L628.86,135.55 L629.35,136.32 L629.86,137.07 L630.36,137.83 L630.87,138.58 L631.37,139.33 L631.88,140.09 L632.37,140.85 L632.86,141.62 L633.34,142.4 L633.8,143.19 L634.25,143.99 L634.7,144.81 L635.14,145.62 L635.58,146.44 L636.02,147.25 L636.48,148.05 L636.96,148.83 L637.46,149.6 L637.98,150.34 L638.54,151.05 L639.14,151.72 L639.77,152.36 L640.46,152.96 L641.2,153.5 L642,153.99 L642.86,154.43 L643.79,154.8" stroke="#ec3d40" stroke-width="2.1" fill="none" stroke-dasharray="4.5 2.8"/>
<path d="M573.98,192 L573.99,191.25 L574,190.5 L574.01,189.74 L574.02,188.99 L574.03,188.24 L574.04,187.49 L574.05,186.73 L574.06,185.98 L574.07,185.23 L574.08,184.48 L574.09,183.72 L574.11,182.97 L574.12,182.22 L574.13,181.47 L574.14,180.72 L574.15,179.96 L574.16,179.21 L574.17,178.46 L574.19,177.71 L574.2,176.96 L574.21,176.21 L574.22,175.46 L574.23,174.7 L574.25,173.95 L574.26,173.2 L574.27,172.45 L574.28,171.7 L574.3,170.95 L574.31,170.2 L574.32,169.44 L574.34,168.69 L574.35,167.94 L574.36,167.19 L574.37,166.44 L574.39,165.69 L574.4,164.94 L574.42,164.19 L574.43,163.44 L574.44,162.69 L574.46,161.93 L574.47,161.18 L574.48,160.43 L574.5,159.68 L574.51,158.93 L574.53,158.18 L574.54,157.43 L574.56,156.68 L574.57,155.93 L574.59,155.18 L574.6,154.43 L574.62,153.68 L574.63,152.93 L574.65,152.18 L574.66,151.42 L574.68,150.67 L574.69,149.92 L574.71,149.17 L574.72,148.42 L574.74,147.67 L574.76,146.92 L574.77,146.17 L574.79,145.42 L574.81,144.67 L574.82,143.92 L574.84,143.17 L574.86,142.42 L574.87,141.67 L574.89,140.91 L574.91,140.16 L574.92,139.41 L574.94,138.66 L574.96,137.91 L574.98,137.16 L574.99,136.41 L575.01,135.66 L575.03,134.91 L575.05,134.16 L575.07,133.41 L575.09,132.65 L575.1,131.9 L575.12,131.15 L575.14,130.4 L575.16,129.65 L575.18,128.9 L575.2,128.15 L575.22,127.4 L575.24,126.65 L575.26,125.89 L575.28,125.14 L575.3,124.39 L575.32,123.64 L575.34,122.89 L575.36,122.14 L575.38,121.39 L575.4,120.63 L575.42,119.88 L575.44,119.13 L575.46,118.38 L575.48,117.63 L575.5,116.87 L575.53,116.12 L575.55,115.37 L575.57,114.62 L575.59,113.87 L575.61,113.11 L575.64,112.36 L575.66,111.61 L575.68,110.86 L575.7,110.1 L575.73,109.35 L575.75,108.6 L575.77,107.85 L575.8,107.09 L575.82,106.34 L575.84,105.59 L575.87,104.83 L575.89,104.08 L575.91,103.33 L575.94,102.58 L575.96,101.82 L575.99,101.07 L576.01,100.31 L576.04,99.56 L576.06,98.81 L576.09,98.05 L576.11,97.3 L576.14,96.55 L576.17,95.79 L576.19,95.04 L576.22,94.29 L576.25,93.53 L576.28,92.78 L576.32,92.03 L576.35,91.27 L576.39,90.52 L576.42,89.77 L576.46,89.02 L576.51,88.27 L576.55,87.51 L576.59,86.76 L576.64,86.01 L576.69,85.26 L576.75,84.51 L576.8,83.76 L576.86,83.02 L576.92,82.27 L576.99,81.52 L577.05,80.78 L577.12,80.03 L577.2,79.28 L577.28,78.54 L577.36,77.8 L577.44,77.05 L577.53,76.31 L577.63,75.57 L577.73,74.83 L577.83,74.09 L577.93,73.35 L578.05,72.61 L578.16,71.88 L578.28,71.14 L578.41,70.41 L578.54,69.67 L578.67,68.94 L578.82,68.21 L578.96,67.48 L579.12,66.75 L579.27,66.02 L579.44,65.3 L579.61,64.57 L579.78,63.85 L579.96,63.13 L580.15,62.41 L580.35,61.69 L580.55,60.97 L580.76,60.25 L580.97,59.54 L581.19,58.82 L581.42,58.11 L581.66,57.4 L581.9,56.69 L582.15,55.98 L582.41,55.28 L582.68,54.57 L582.95,53.87 L583.23,53.17 L583.52,52.47 L583.82,51.78 L584.12,51.08 L584.43,50.39 L584.75,49.69 L585.07,49 L585.39,48.31 L585.72,47.63 L586.06,46.94 L586.4,46.25 L586.74,45.57 L587.08,44.88 L587.43,44.2 L587.78,43.52 L588.13,42.84 L588.48,42.16 L588.83,41.48 L589.18,40.8 L589.53,40.12 L589.88,39.44 L590.23,38.76 L590.58,38.09 L590.93,37.41 L591.28,36.74 L591.64,36.08 L592,35.41 L592.36,34.76 L592.73,34.11 L593.11,33.46 L593.49,32.83 L593.88,32.2 L594.28,31.59 L594.7,30.98 L595.12,30.39 L595.56,29.8 L596.01,29.23 L596.47,28.68 L596.95,28.14 L597.44,27.61 L597.95,27.1 L598.47,26.6 L599,26.11 L599.54,25.64 L600.1,25.18 L600.67,24.74 L601.25,24.31 L601.84,23.89 L602.44,23.49 L603.05,23.09 L603.67,22.72 L604.3,22.35 L604.94,22 L605.59,21.66 L606.24,21.33 L606.91,21.01 L607.57,20.71 L608.25,20.41 L608.93,20.13 L609.62,19.86 L610.32,19.6 L611.02,19.35 L611.73,19.1 L612.44,18.87 L613.16,18.65 L613.89,18.43 L614.62,18.23 L615.35,18.03 L616.09,17.84 L616.83,17.66 L617.57,17.49 L618.32,17.32 L619.08,17.16 L619.83,17 L620.59,16.86 L621.35,16.71 L622.12,16.58 L622.88,16.45 L623.65,16.32 L624.42,16.2 L625.19,16.08 L625.96,15.97 L626.74,15.86 L627.51,15.75 L628.28,15.64 L629.06,15.54 L629.83,15.44 L630.6,15.35 L631.38,15.25 L632.15,15.16 L632.92,15.07 L633.69,14.98 L634.45,14.89 L635.22,14.79 L635.98,14.7 L636.75,14.61 L637.5,14.52 L638.26,14.43 L639.01,14.34 L639.76,14.24 L640.51,14.14 L641.25,14.04 L641.99,13.94 L642.72,13.84 L643.45,13.73 L644.17,13.62 L644.89,13.5 L645.6,13.39 L646.31,13.26 L647.01,13.13 L647.71,13 L648.4,12.86 L649.08,12.72 L649.75,12.57" stroke="#404040" stroke-width="2" fill="none"/>
<path d="M573.49,207.01 L573.5,206.18 L573.5,205.36 L573.51,204.54 L573.51,203.72 L573.51,202.89 L573.51,202.07 L573.52,201.25 L573.52,200.43 L573.52,199.6 L573.53,198.78 L573.53,197.96 L573.53,197.14 L573.53,196.32 L573.53,195.5 L573.53,194.68 L573.54,193.86 L573.54,193.04 L573.54,192.22 L573.54,191.4 L573.54,190.58 L573.54,189.77 L573.54,188.95 L573.54,188.13 L573.54,187.31 L573.54,186.49 L573.54,185.67 L573.54,184.86 L573.54,184.04 L573.54,183.22 L573.54,182.41 L573.54,181.59 L573.54,180.77 L573.54,179.96 L573.54,179.14 L573.54,178.32 L573.54,177.51 L573.54,176.69 L573.54,175.88 L573.54,175.06 L573.54,174.24 L573.54,173.43 L573.54,172.61 L573.54,171.8 L573.54,170.98 L573.54,170.17 L573.54,169.35 L573.54,168.54 L573.54,167.72 L573.54,166.91 L573.53,166.1 L573.53,165.28 L573.53,164.47 L573.53,163.65 L573.53,162.84 L573.53,162.03 L573.53,161.21 L573.53,160.4 L573.53,159.58 L573.53,158.77 L573.53,157.96 L573.53,157.14 L573.53,156.33 L573.53,155.52 L573.53,154.7 L573.53,153.89 L573.53,153.08 L573.53,152.26 L573.53,151.45 L573.53,150.64 L573.53,149.82 L573.53,149.01 L573.53,148.2 L573.53,147.38 L573.54,146.57 L573.54,145.76 L573.54,144.94 L573.54,144.13 L573.54,143.32 L573.54,142.5 L573.54,141.69 L573.55,140.87 L573.55,140.06 L573.55,139.25 L573.55,138.43 L573.56,137.62 L573.56,136.81 L573.56,135.99 L573.57,135.18 L573.57,134.37 L573.57,133.55 L573.58,132.74 L573.58,131.92 L573.59,131.11 L573.59,130.3 L573.59,129.48 L573.6,128.67 L573.6,127.85 L573.61,127.04 L573.62,126.22 L573.62,125.41 L573.63,124.59 L573.63,123.78 L573.64,122.96 L573.65,122.15 L573.66,121.33 L573.66,120.52 L573.67,119.7 L573.68,118.89 L573.69,118.07 L573.69,117.25 L573.7,116.44 L573.71,115.62 L573.72,114.81 L573.73,113.99 L573.74,113.17 L573.75,112.35 L573.76,111.54 L573.77,110.72 L573.79,109.9 L573.8,109.09 L573.81,108.27 L573.82,107.45 L573.83,106.63 L573.85,105.81 L573.86,104.99 L573.87,104.17 L573.89,103.36 L573.9,102.54 L573.92,101.72 L573.93,100.9 L573.95,100.08 L573.97,99.26 L573.98,98.44 L574,97.62 L574.02,96.8 L574.04,95.97 L574.06,95.15 L574.08,94.33 L574.1,93.51 L574.12,92.69 L574.15,91.87 L574.17,91.05 L574.2,90.23 L574.23,89.41 L574.27,88.59 L574.3,87.77 L574.34,86.95 L574.38,86.13 L574.42,85.31 L574.46,84.49 L574.51,83.67 L574.56,82.85 L574.62,82.03 L574.67,81.21 L574.73,80.4 L574.8,79.58 L574.86,78.76 L574.93,77.95 L575.01,77.13 L575.09,76.32 L575.17,75.5 L575.26,74.69 L575.35,73.88 L575.44,73.06 L575.54,72.25 L575.65,71.44 L575.76,70.63 L575.87,69.82 L575.99,69.02 L576.11,68.21 L576.24,67.4 L576.38,66.6 L576.52,65.79 L576.67,64.99 L576.82,64.19 L576.98,63.39 L577.14,62.59 L577.32,61.79 L577.49,60.99 L577.68,60.2 L577.87,59.4 L578.06,58.61 L578.27,57.81 L578.48,57.02 L578.7,56.23 L578.92,55.44 L579.16,54.66 L579.4,53.87 L579.64,53.09 L579.9,52.3 L580.16,51.52 L580.43,50.74 L580.71,49.97 L581,49.19 L581.29,48.42 L581.6,47.65 L581.91,46.89 L582.23,46.13 L582.55,45.37 L582.89,44.61 L583.23,43.86 L583.58,43.11 L583.93,42.37 L584.3,41.63 L584.67,40.9 L585.06,40.17 L585.45,39.45 L585.85,38.74 L586.25,38.03 L586.67,37.32 L587.09,36.62 L587.52,35.93 L587.96,35.24 L588.41,34.57 L588.86,33.89 L589.33,33.23 L589.8,32.57 L590.28,31.92 L590.77,31.28 L591.27,30.65 L591.77,30.03 L592.29,29.41 L592.81,28.8 L593.34,28.21 L593.88,27.62 L594.43,27.04 L594.99,26.47 L595.55,25.91 L596.12,25.36 L596.71,24.83 L597.3,24.3 L597.9,23.78 L598.51,23.28 L599.13,22.78 L599.75,22.3 L600.39,21.83 L601.03,21.37 L601.68,20.92 L602.34,20.49 L603.01,20.06 L603.69,19.66 L604.38,19.26 L605.08,18.88 L605.78,18.51 L606.5,18.15 L607.22,17.81 L607.95,17.48 L608.69,17.16 L609.43,16.85 L610.19,16.55 L610.95,16.27 L611.71,15.99 L612.49,15.73 L613.26,15.48 L614.05,15.23 L614.84,15 L615.63,14.77 L616.43,14.56 L617.23,14.35 L618.04,14.15 L618.86,13.95 L619.67,13.77 L620.49,13.59 L621.31,13.42 L622.14,13.26 L622.97,13.1 L623.8,12.95 L624.63,12.8 L625.46,12.66 L626.3,12.52 L627.13,12.39 L627.97,12.26 L628.81,12.14 L629.64,12.02 L630.48,11.9 L631.32,11.78 L632.15,11.67 L632.99,11.56 L633.82,11.45 L634.66,11.35 L635.49,11.24 L636.32,11.14 L637.14,11.04 L637.97,10.93 L638.79,10.83 L639.61,10.73 L640.42,10.62 L641.23,10.52 L642.04,10.41 L642.84,10.3 L643.64,10.19 L644.43,10.08 L645.22,9.97 L646,9.85 L646.78,9.73 L647.55,9.6 L648.31,9.48 L649.07,9.34 L649.82,9.2" stroke="#ec3d40" stroke-width="2" fill="none"/>
<line x1="496.2" y1="3.6" x2="650.3" y2="3.6" stroke="#666" stroke-width="1.3"/>
<line x1="650.3" y1="3.6" x2="650.3" y2="207.1" stroke="#333" stroke-width="1.3"/>
<line x1="496.2" y1="207.1" x2="650.3" y2="207.1" stroke="#444" stroke-width="1.3"/>
<line x1="496.2" y1="3.6" x2="496.2" y2="207.1" stroke="#666" stroke-width="1.3"/>
<line x1="496.2" y1="22.1" x2="499.2" y2="22.1" stroke="#5a5a5a" stroke-width="1"/>
<line x1="496.2" y1="42" x2="499.2" y2="42" stroke="#5a5a5a" stroke-width="1"/>
<line x1="496.2" y1="61.9" x2="499.2" y2="61.9" stroke="#5a5a5a" stroke-width="1"/>
<line x1="496.2" y1="81.8" x2="499.2" y2="81.8" stroke="#5a5a5a" stroke-width="1"/>
<line x1="496.2" y1="101.7" x2="499.2" y2="101.7" stroke="#5a5a5a" stroke-width="1"/>
<line x1="496.2" y1="121.6" x2="499.2" y2="121.6" stroke="#5a5a5a" stroke-width="1"/>
<line x1="496.2" y1="141.5" x2="499.2" y2="141.5" stroke="#5a5a5a" stroke-width="1"/>
<line x1="496.2" y1="161.4" x2="499.2" y2="161.4" stroke="#5a5a5a" stroke-width="1"/>
<line x1="496.2" y1="181.3" x2="499.2" y2="181.3" stroke="#5a5a5a" stroke-width="1"/>
<line x1="496.2" y1="201.2" x2="499.2" y2="201.2" stroke="#5a5a5a" stroke-width="1"/>
<text class="s" x="492.3" y="21.6" font-size="6" text-anchor="end" fill="#1a1a1a" textLength="4.8" lengthAdjust="spacingAndGlyphs">-3</text>
<text class="s" x="486.9" y="25.2" font-size="8.8" text-anchor="end" fill="#1a1a1a">10</text>
<text class="s" x="492.3" y="61.4" font-size="6" text-anchor="end" fill="#1a1a1a" textLength="4.8" lengthAdjust="spacingAndGlyphs">-5</text>
<text class="s" x="486.9" y="65" font-size="8.8" text-anchor="end" fill="#1a1a1a">10</text>
<text class="s" x="492.3" y="101.2" font-size="6" text-anchor="end" fill="#1a1a1a" textLength="4.8" lengthAdjust="spacingAndGlyphs">-7</text>
<text class="s" x="486.9" y="104.8" font-size="8.8" text-anchor="end" fill="#1a1a1a">10</text>
<text class="s" x="492.3" y="141" font-size="6" text-anchor="end" fill="#1a1a1a" textLength="4.8" lengthAdjust="spacingAndGlyphs">-9</text>
<text class="s" x="486.9" y="144.6" font-size="8.8" text-anchor="end" fill="#1a1a1a">10</text>
<text class="s" x="492.3" y="180.8" font-size="6" text-anchor="end" fill="#1a1a1a" textLength="7.2" lengthAdjust="spacingAndGlyphs">-11</text>
<text class="s" x="484.5" y="184.4" font-size="8.8" text-anchor="end" fill="#1a1a1a">10</text>
<line x1="647.3" y1="207.1" x2="650.3" y2="207.1" stroke="#333" stroke-width="1"/>
<text class="s" x="653.8" y="210.1" font-size="8.3" text-anchor="start" fill="#1a1a1a">0</text>
<line x1="647.3" y1="179.98" x2="650.3" y2="179.98" stroke="#333" stroke-width="1"/>
<text class="s" x="653.8" y="182.98" font-size="8.3" text-anchor="start" fill="#1a1a1a">20</text>
<line x1="647.3" y1="152.86" x2="650.3" y2="152.86" stroke="#333" stroke-width="1"/>
<text class="s" x="653.8" y="155.86" font-size="8.3" text-anchor="start" fill="#1a1a1a">40</text>
<line x1="647.3" y1="125.74" x2="650.3" y2="125.74" stroke="#333" stroke-width="1"/>
<text class="s" x="653.8" y="128.74" font-size="8.3" text-anchor="start" fill="#1a1a1a">60</text>
<line x1="647.3" y1="98.62" x2="650.3" y2="98.62" stroke="#333" stroke-width="1"/>
<text class="s" x="653.8" y="101.62" font-size="8.3" text-anchor="start" fill="#1a1a1a">80</text>
<line x1="647.3" y1="71.5" x2="650.3" y2="71.5" stroke="#333" stroke-width="1"/>
<text class="s" x="653.8" y="74.5" font-size="8.3" text-anchor="start" fill="#1a1a1a">100</text>
<line x1="647.3" y1="44.38" x2="650.3" y2="44.38" stroke="#333" stroke-width="1"/>
<text class="s" x="653.8" y="47.38" font-size="8.3" text-anchor="start" fill="#1a1a1a">120</text>
<line x1="647.3" y1="17.26" x2="650.3" y2="17.26" stroke="#333" stroke-width="1"/>
<text class="s" x="653.8" y="20.26" font-size="8.3" text-anchor="start" fill="#1a1a1a">140</text>
<line x1="496.4" y1="207.1" x2="496.4" y2="204.1" stroke="#5a5a5a" stroke-width="1"/>
<text class="s" x="496.4" y="216.5" font-size="7.6" text-anchor="middle" fill="#1a1a1a">-30</text>
<line x1="522.1" y1="207.1" x2="522.1" y2="204.1" stroke="#5a5a5a" stroke-width="1"/>
<text class="s" x="522.1" y="216.5" font-size="7.6" text-anchor="middle" fill="#1a1a1a">-20</text>
<line x1="547.8" y1="207.1" x2="547.8" y2="204.1" stroke="#5a5a5a" stroke-width="1"/>
<text class="s" x="547.8" y="216.5" font-size="7.6" text-anchor="middle" fill="#1a1a1a">-10</text>
<line x1="573.5" y1="207.1" x2="573.5" y2="204.1" stroke="#5a5a5a" stroke-width="1"/>
<text class="s" x="573.5" y="216.5" font-size="7.6" text-anchor="middle" fill="#1a1a1a">0</text>
<line x1="599.2" y1="207.1" x2="599.2" y2="204.1" stroke="#5a5a5a" stroke-width="1"/>
<text class="s" x="599.2" y="216.5" font-size="7.6" text-anchor="middle" fill="#1a1a1a">10</text>
<line x1="624.9" y1="207.1" x2="624.9" y2="204.1" stroke="#5a5a5a" stroke-width="1"/>
<text class="s" x="624.9" y="216.5" font-size="7.6" text-anchor="middle" fill="#1a1a1a">20</text>
<line x1="650.6" y1="207.1" x2="650.6" y2="204.1" stroke="#5a5a5a" stroke-width="1"/>
<text class="s" x="650.6" y="216.5" font-size="7.6" text-anchor="middle" fill="#1a1a1a">30</text>
<text class="n" x="448" y="35.2" font-size="16.5" text-anchor="start" fill="#1a1a1a">(c)</text>
<line x1="501" y1="15" x2="521" y2="15" stroke="#404040" stroke-width="2"/>
<text class="s" x="523.4" y="17.8" font-size="8.7" text-anchor="start" fill="#1a1a1a" textLength="49.8" lengthAdjust="spacingAndGlyphs">EIL LV IGZO</text>
<line x1="501" y1="25.3" x2="521" y2="25.3" stroke="#ec3d40" stroke-width="2"/>
<text class="s" x="523.4" y="28.4" font-size="8.7" text-anchor="start" fill="#1a1a1a" textLength="50.5" lengthAdjust="spacingAndGlyphs">EIL HV IGZO</text>
<text transform="translate(468.5,108.5) rotate(-90)" font-size="12.5" text-anchor="middle" fill="#1a1a1a">I<tspan font-size="8.5" dy="3">DS</tspan><tspan dy="-3"> (A)</tspan></text>
<text transform="translate(681.3,105.4) rotate(-90)" font-size="12.4" text-anchor="middle" fill="#1a1a1a" textLength="84" lengthAdjust="spacingAndGlyphs">μ<tspan font-size="8.43" dy="3">FET</tspan><tspan dy="-3"> (cm</tspan><tspan font-size="8.43" dy="-4.5">2</tspan><tspan dy="4.5">/Vs)</tspan></text>
<text x="573" y="234.8" font-size="13.6" text-anchor="middle" fill="#1a1a1a" textLength="48.3" lengthAdjust="spacingAndGlyphs">V<tspan font-size="9.79" dy="2.6">GS</tspan><tspan dy="-2.6"> (V)</tspan></text>
<rect x="65.8" y="381" width="28.2" height="26.3" fill="#ec3d40" stroke="#111" stroke-width="1.1"/>
<line x1="79.9" y1="377.5" x2="79.9" y2="384.6" stroke="#111" stroke-width="1.35"/>
<line x1="77.8" y1="377.5" x2="82" y2="377.5" stroke="#111" stroke-width="1.3"/>
<line x1="77.8" y1="384.6" x2="82" y2="384.6" stroke="#111" stroke-width="1.3"/>
<rect x="104.9" y="355.4" width="28.9" height="51.9" fill="#4f4f4f" stroke="#111" stroke-width="1.1"/>
<line x1="119.35" y1="345.8" x2="119.35" y2="365" stroke="#111" stroke-width="1.35"/>
<line x1="117.25" y1="345.8" x2="121.45" y2="345.8" stroke="#111" stroke-width="1.3"/>
<line x1="117.25" y1="365" x2="121.45" y2="365" stroke="#111" stroke-width="1.3"/>
<rect x="144.2" y="377.5" width="28.1" height="29.8" fill="#ec3d40" stroke="#111" stroke-width="1.1"/>
<line x1="158.25" y1="370" x2="158.25" y2="384" stroke="#111" stroke-width="1.35"/>
<line x1="156.15" y1="370" x2="160.35" y2="370" stroke="#111" stroke-width="1.3"/>
<line x1="156.15" y1="384" x2="160.35" y2="384" stroke="#111" stroke-width="1.3"/>
<rect x="183.9" y="331.7" width="28.2" height="75.6" fill="#4f4f4f" stroke="#111" stroke-width="1.1"/>
<line x1="198" y1="322.2" x2="198" y2="341.8" stroke="#111" stroke-width="1.35"/>
<line x1="195.9" y1="322.2" x2="200.1" y2="322.2" stroke="#111" stroke-width="1.3"/>
<line x1="195.9" y1="341.8" x2="200.1" y2="341.8" stroke="#111" stroke-width="1.3"/>
<line x1="60.5" y1="233.5" x2="217.5" y2="233.5" stroke="#888" stroke-width="1.1"/>
<line x1="217.5" y1="233.5" x2="217.5" y2="407.3" stroke="#999" stroke-width="0.9"/>
<line x1="60.5" y1="407.3" x2="217.5" y2="407.3" stroke="#777" stroke-width="1"/>
<line x1="60.5" y1="233.5" x2="60.5" y2="407.3" stroke="#777" stroke-width="1"/>
<line x1="60.5" y1="402.9" x2="63.5" y2="402.9" stroke="#5a5a5a" stroke-width="1"/>
<text x="56.6" y="406.1" font-size="10.2" text-anchor="end" fill="#1a1a1a" textLength="15.8" lengthAdjust="spacingAndGlyphs">0.0</text>
<line x1="60.5" y1="365.15" x2="63.5" y2="365.15" stroke="#5a5a5a" stroke-width="1"/>
<text x="56.6" y="368.35" font-size="10.2" text-anchor="end" fill="#1a1a1a" textLength="15.8" lengthAdjust="spacingAndGlyphs">0.4</text>
<line x1="60.5" y1="327.4" x2="63.5" y2="327.4" stroke="#5a5a5a" stroke-width="1"/>
<text x="56.6" y="330.6" font-size="10.2" text-anchor="end" fill="#1a1a1a" textLength="15.8" lengthAdjust="spacingAndGlyphs">0.8</text>
<line x1="60.5" y1="289.65" x2="63.5" y2="289.65" stroke="#5a5a5a" stroke-width="1"/>
<text x="56.6" y="292.85" font-size="10.2" text-anchor="end" fill="#1a1a1a" textLength="15.8" lengthAdjust="spacingAndGlyphs">1.2</text>
<line x1="60.5" y1="251.9" x2="63.5" y2="251.9" stroke="#5a5a5a" stroke-width="1"/>
<text x="56.6" y="255.1" font-size="10.2" text-anchor="end" fill="#1a1a1a" textLength="15.8" lengthAdjust="spacingAndGlyphs">1.6</text>
<line x1="79.9" y1="407.3" x2="79.9" y2="404.3" stroke="#333" stroke-width="1"/>
<text x="79.9" y="419.9" font-size="11" text-anchor="middle" fill="#1a1a1a">60</text>
<line x1="119.35" y1="407.3" x2="119.35" y2="404.3" stroke="#333" stroke-width="1"/>
<text x="119.35" y="419.9" font-size="11" text-anchor="middle" fill="#1a1a1a">60</text>
<line x1="158.25" y1="407.3" x2="158.25" y2="404.3" stroke="#333" stroke-width="1"/>
<text x="158.25" y="419.9" font-size="11" text-anchor="middle" fill="#1a1a1a">100</text>
<line x1="198" y1="407.3" x2="198" y2="404.3" stroke="#333" stroke-width="1"/>
<text x="198" y="419.9" font-size="11" text-anchor="middle" fill="#1a1a1a">100</text>
<text x="87.6" y="438.5" font-size="12.5" text-anchor="start" fill="#1a1a1a" textLength="104.2" lengthAdjust="spacingAndGlyphs">Temperature (<tspan font-size="8.2" dy="-4.2">o</tspan><tspan dy="4.2">C)</tspan></text>
<text class="n" x="2.5" y="246.9" font-size="16.5" text-anchor="start" fill="#1a1a1a">(d)</text>
<text x="66.5" y="245.8" font-size="12" text-anchor="start" fill="#1a1a1a" textLength="37.2" lengthAdjust="spacingAndGlyphs">NBTS</text>
<rect x="67.7" y="250.8" width="19.8" height="8.4" fill="#4f4f4f" stroke="#111" stroke-width="1"/>
<rect x="67.7" y="259.4" width="19.8" height="9.2" fill="#ec3d40" stroke="#111" stroke-width="1"/>
<line x1="67.7" y1="259.3" x2="87.5" y2="259.3" stroke="#111" stroke-width="1.5"/>
<text class="s" x="88.8" y="258.1" font-size="8" text-anchor="start" fill="#1a1a1a" textLength="52.9" lengthAdjust="spacingAndGlyphs">LV IGZO TFTs</text>
<text class="s" x="88.8" y="266.8" font-size="8" text-anchor="start" fill="#1a1a1a" textLength="53.5" lengthAdjust="spacingAndGlyphs">HV IGZO TFTs</text>
<text transform="translate(34.3,319.8) rotate(-90)" font-size="12" text-anchor="middle" fill="#1a1a1a">ΔV<tspan font-size="8.5" dy="2.6">TH</tspan><tspan dy="-2.6"> (V)</tspan></text>
<rect x="285.1" y="394.8" width="27.7" height="12.5" fill="#ec3d40" stroke="#111" stroke-width="1.1"/>
<line x1="298.95" y1="388.6" x2="298.95" y2="400.6" stroke="#111" stroke-width="1.35"/>
<line x1="296.85" y1="388.6" x2="301.05" y2="388.6" stroke="#111" stroke-width="1.3"/>
<line x1="296.85" y1="400.6" x2="301.05" y2="400.6" stroke="#111" stroke-width="1.3"/>
<rect x="324.4" y="360.4" width="27.7" height="46.9" fill="#4f4f4f" stroke="#111" stroke-width="1.1"/>
<line x1="338.25" y1="348.8" x2="338.25" y2="372" stroke="#111" stroke-width="1.35"/>
<line x1="336.15" y1="348.8" x2="340.35" y2="348.8" stroke="#111" stroke-width="1.3"/>
<line x1="336.15" y1="372" x2="340.35" y2="372" stroke="#111" stroke-width="1.3"/>
<rect x="363.4" y="383.8" width="28.2" height="23.5" fill="#ec3d40" stroke="#111" stroke-width="1.1"/>
<line x1="377.5" y1="378.5" x2="377.5" y2="389.6" stroke="#111" stroke-width="1.35"/>
<line x1="375.4" y1="378.5" x2="379.6" y2="378.5" stroke="#111" stroke-width="1.3"/>
<line x1="375.4" y1="389.6" x2="379.6" y2="389.6" stroke="#111" stroke-width="1.3"/>
<rect x="402.7" y="268.8" width="27.7" height="138.5" fill="#4f4f4f" stroke="#111" stroke-width="1.1"/>
<line x1="416.55" y1="250.2" x2="416.55" y2="287.4" stroke="#111" stroke-width="1.35"/>
<line x1="414.45" y1="250.2" x2="418.65" y2="250.2" stroke="#111" stroke-width="1.3"/>
<line x1="414.45" y1="287.4" x2="418.65" y2="287.4" stroke="#111" stroke-width="1.3"/>
<line x1="279.5" y1="233.5" x2="436.3" y2="233.5" stroke="#888" stroke-width="1.1"/>
<line x1="436.3" y1="233.5" x2="436.3" y2="407.3" stroke="#999" stroke-width="0.9"/>
<line x1="279.5" y1="407.3" x2="436.3" y2="407.3" stroke="#777" stroke-width="1"/>
<line x1="279.5" y1="233.5" x2="279.5" y2="407.3" stroke="#777" stroke-width="1"/>
<line x1="279.5" y1="402.8" x2="282.5" y2="402.8" stroke="#5a5a5a" stroke-width="1"/>
<text x="275.6" y="406" font-size="10.2" text-anchor="end" fill="#1a1a1a" textLength="15.8" lengthAdjust="spacingAndGlyphs">0.0</text>
<line x1="279.5" y1="365.1" x2="282.5" y2="365.1" stroke="#5a5a5a" stroke-width="1"/>
<text x="275.6" y="368.3" font-size="10.2" text-anchor="end" fill="#1a1a1a" textLength="15.8" lengthAdjust="spacingAndGlyphs">0.4</text>
<line x1="279.5" y1="327.4" x2="282.5" y2="327.4" stroke="#5a5a5a" stroke-width="1"/>
<text x="275.6" y="330.6" font-size="10.2" text-anchor="end" fill="#1a1a1a" textLength="15.8" lengthAdjust="spacingAndGlyphs">0.8</text>
<line x1="279.5" y1="289.7" x2="282.5" y2="289.7" stroke="#5a5a5a" stroke-width="1"/>
<text x="275.6" y="292.9" font-size="10.2" text-anchor="end" fill="#1a1a1a" textLength="15.8" lengthAdjust="spacingAndGlyphs">1.2</text>
<line x1="279.5" y1="252" x2="282.5" y2="252" stroke="#5a5a5a" stroke-width="1"/>
<text x="275.6" y="255.2" font-size="10.2" text-anchor="end" fill="#1a1a1a" textLength="15.8" lengthAdjust="spacingAndGlyphs">1.6</text>
<line x1="298.95" y1="407.3" x2="298.95" y2="404.3" stroke="#333" stroke-width="1"/>
<text x="298.95" y="419.9" font-size="11" text-anchor="middle" fill="#1a1a1a">60</text>
<line x1="338.25" y1="407.3" x2="338.25" y2="404.3" stroke="#333" stroke-width="1"/>
<text x="338.25" y="419.9" font-size="11" text-anchor="middle" fill="#1a1a1a">60</text>
<line x1="377.5" y1="407.3" x2="377.5" y2="404.3" stroke="#333" stroke-width="1"/>
<text x="377.5" y="419.9" font-size="11" text-anchor="middle" fill="#1a1a1a">100</text>
<line x1="416.55" y1="407.3" x2="416.55" y2="404.3" stroke="#333" stroke-width="1"/>
<text x="416.55" y="419.9" font-size="11" text-anchor="middle" fill="#1a1a1a">100</text>
<text x="306.6" y="438.5" font-size="12.5" text-anchor="start" fill="#1a1a1a" textLength="104.2" lengthAdjust="spacingAndGlyphs">Temperature (<tspan font-size="8.2" dy="-4.2">o</tspan><tspan dy="4.2">C)</tspan></text>
<text class="n" x="227.3" y="246.9" font-size="16.5" text-anchor="start" fill="#1a1a1a">(e)</text>
<text x="285.5" y="245.8" font-size="12" text-anchor="start" fill="#1a1a1a" textLength="37.2" lengthAdjust="spacingAndGlyphs">PBTS</text>
<rect x="286.7" y="250.8" width="19.8" height="8.4" fill="#4f4f4f" stroke="#111" stroke-width="1"/>
<rect x="286.7" y="259.4" width="19.8" height="9.2" fill="#ec3d40" stroke="#111" stroke-width="1"/>
<line x1="286.7" y1="259.3" x2="306.5" y2="259.3" stroke="#111" stroke-width="1.5"/>
<text class="s" x="307.8" y="258.1" font-size="8" text-anchor="start" fill="#1a1a1a" textLength="52.9" lengthAdjust="spacingAndGlyphs">LV IGZO TFTs</text>
<text class="s" x="307.8" y="266.8" font-size="8" text-anchor="start" fill="#1a1a1a" textLength="53.5" lengthAdjust="spacingAndGlyphs">HV IGZO TFTs</text>
<text transform="translate(253.3,319.8) rotate(-90)" font-size="12" text-anchor="middle" fill="#1a1a1a">ΔV<tspan font-size="8.5" dy="2.6">TH</tspan><tspan dy="-2.6"> (V)</tspan></text>
<line x1="492.6" y1="238.4" x2="650" y2="238.4" stroke="#999" stroke-width="1.1"/>
<line x1="650" y1="238.4" x2="650" y2="411.6" stroke="#8a8a8a" stroke-width="1.3"/>
<line x1="492.6" y1="411.6" x2="650" y2="411.6" stroke="#888" stroke-width="1.5"/>
<line x1="492.6" y1="238.4" x2="492.6" y2="411.6" stroke="#777" stroke-width="1.1"/>
<line x1="492.6" y1="240.5" x2="495.6" y2="240.5" stroke="#5a5a5a" stroke-width="1"/>
<line x1="492.6" y1="255.25" x2="495.6" y2="255.25" stroke="#5a5a5a" stroke-width="1"/>
<line x1="492.6" y1="270" x2="495.6" y2="270" stroke="#5a5a5a" stroke-width="1"/>
<line x1="492.6" y1="284.75" x2="495.6" y2="284.75" stroke="#5a5a5a" stroke-width="1"/>
<line x1="492.6" y1="299.5" x2="495.6" y2="299.5" stroke="#5a5a5a" stroke-width="1"/>
<line x1="492.6" y1="314.25" x2="495.6" y2="314.25" stroke="#5a5a5a" stroke-width="1"/>
<line x1="492.6" y1="329" x2="495.6" y2="329" stroke="#5a5a5a" stroke-width="1"/>
<line x1="492.6" y1="343.75" x2="495.6" y2="343.75" stroke="#5a5a5a" stroke-width="1"/>
<line x1="492.6" y1="358.5" x2="495.6" y2="358.5" stroke="#5a5a5a" stroke-width="1"/>
<line x1="492.6" y1="373.25" x2="495.6" y2="373.25" stroke="#5a5a5a" stroke-width="1"/>
<line x1="492.6" y1="388" x2="495.6" y2="388" stroke="#5a5a5a" stroke-width="1"/>
<line x1="492.6" y1="402.75" x2="495.6" y2="402.75" stroke="#5a5a5a" stroke-width="1"/>
<text x="489.1" y="243.8" font-size="9" text-anchor="end" fill="#1a1a1a">0</text>
<text x="489.1" y="273.3" font-size="9" text-anchor="end" fill="#1a1a1a">-1</text>
<text x="489.1" y="302.8" font-size="9" text-anchor="end" fill="#1a1a1a">-2</text>
<text x="489.1" y="332.3" font-size="9" text-anchor="end" fill="#1a1a1a">-3</text>
<text x="489.1" y="361.8" font-size="9" text-anchor="end" fill="#1a1a1a">-4</text>
<text x="489.1" y="391.3" font-size="9" text-anchor="end" fill="#1a1a1a">-5</text>
<text class="s" x="492.7" y="420.7" font-size="7.6" text-anchor="middle" fill="#1a1a1a">0</text>
<line x1="518.85" y1="411.6" x2="518.85" y2="408.6" stroke="#777" stroke-width="1"/>
<text class="s" x="518.85" y="420.7" font-size="7.6" text-anchor="middle" fill="#1a1a1a">600</text>
<line x1="545" y1="411.6" x2="545" y2="408.6" stroke="#777" stroke-width="1"/>
<text class="s" x="545" y="420.7" font-size="7.6" text-anchor="middle" fill="#1a1a1a">1200</text>
<line x1="571.15" y1="411.6" x2="571.15" y2="408.6" stroke="#777" stroke-width="1"/>
<text class="s" x="571.15" y="420.7" font-size="7.6" text-anchor="middle" fill="#1a1a1a">1800</text>
<line x1="597.3" y1="411.6" x2="597.3" y2="408.6" stroke="#777" stroke-width="1"/>
<text class="s" x="597.3" y="420.7" font-size="7.6" text-anchor="middle" fill="#1a1a1a">2400</text>
<line x1="623.45" y1="411.6" x2="623.45" y2="408.6" stroke="#777" stroke-width="1"/>
<text class="s" x="623.45" y="420.7" font-size="7.6" text-anchor="middle" fill="#1a1a1a">3000</text>
<line x1="649.6" y1="411.6" x2="649.6" y2="408.6" stroke="#777" stroke-width="1"/>
<text class="s" x="649.6" y="420.7" font-size="7.6" text-anchor="middle" fill="#1a1a1a">3600</text>
<clipPath id="fclip"><rect x="492.6" y="238.4" width="157.4" height="173.2"/></clipPath><g clip-path="url(#fclip)">
<polyline points="492.7,240.5 518.85,290.36 545,305.4 571.15,325.17 597.3,350.83 623.45,350.83 649.6,358.21" fill="none" stroke="#4a4a4a" stroke-width="1.05"/>
<polyline points="492.7,240.5 518.85,260.86 545,262.04 571.15,266.75 597.3,275.9 623.45,275.9 649.6,280.62" fill="none" stroke="#ec3d40" stroke-width="1.05"/>
<polygon points="492.7,236.9 496.5,239.66 495.05,244.14 490.35,244.14 488.9,239.66" fill="#4a4a4a"/>
<polygon points="518.85,286.75 522.65,289.52 521.2,293.99 516.5,293.99 515.05,289.52" fill="#4a4a4a"/>
<polygon points="545,301.8 548.8,304.56 547.35,309.04 542.65,309.04 541.2,304.56" fill="#4a4a4a"/>
<polygon points="571.15,321.56 574.95,324.33 573.5,328.8 568.8,328.8 567.35,324.33" fill="#4a4a4a"/>
<polygon points="597.3,347.23 601.1,349.99 599.65,354.47 594.95,354.47 593.5,349.99" fill="#4a4a4a"/>
<polygon points="623.45,347.23 627.25,349.99 625.8,354.47 621.1,354.47 619.65,349.99" fill="#4a4a4a"/>
<polygon points="649.6,354.61 653.4,357.37 651.95,361.84 647.25,361.84 645.8,357.37" fill="#4a4a4a"/>
<polygon points="518.85,257.25 522.65,260.02 521.2,264.49 516.5,264.49 515.05,260.02" fill="#ec3d40"/>
<polygon points="545,258.44 548.8,261.2 547.35,265.67 542.65,265.67 541.2,261.2" fill="#ec3d40"/>
<polygon points="571.15,263.15 574.95,265.92 573.5,270.39 568.8,270.39 567.35,265.92" fill="#ec3d40"/>
<polygon points="597.3,272.3 601.1,275.06 599.65,279.54 594.95,279.54 593.5,275.06" fill="#ec3d40"/>
<polygon points="623.45,272.3 627.25,275.06 625.8,279.54 621.1,279.54 619.65,275.06" fill="#ec3d40"/>
<polygon points="649.6,277.02 653.4,279.78 651.95,284.26 647.25,284.26 645.8,279.78" fill="#ec3d40"/>
</g>
<line x1="497.7" y1="373.3" x2="519.2" y2="373.3" stroke="#6a6a6a" stroke-width="1.3"/>
<polygon points="508.8,369.3 512.89,372.27 511.33,377.08 506.27,377.08 504.71,372.27" fill="#4a4a4a"/>
<text x="522.2" y="375.9" font-size="9" text-anchor="start" fill="#1a1a1a" textLength="37.2" lengthAdjust="spacingAndGlyphs">LV IGZO</text>
<line x1="497.7" y1="383.5" x2="519.2" y2="383.5" stroke="#ee5558" stroke-width="1.3"/>
<polygon points="508.8,379.5 512.89,382.47 511.33,387.28 506.27,387.28 504.71,382.47" fill="#ec3d40"/>
<text x="522.2" y="386.2" font-size="9" text-anchor="start" fill="#1a1a1a" textLength="38.3" lengthAdjust="spacingAndGlyphs">HV IGZO</text>
<text x="499.8" y="403.9" font-size="11.6" text-anchor="start" fill="#1a1a1a" textLength="38.8" lengthAdjust="spacingAndGlyphs">NBTIS</text>
<text class="s" x="542.1" y="402.5" font-size="8.8" text-anchor="start" fill="#1a1a1a" textLength="78.7" lengthAdjust="spacingAndGlyphs">(100°C, 1000 lux)</text>
<text class="n" x="447.5" y="253.4" font-size="16.5" text-anchor="start" fill="#1a1a1a">(f)</text>
<text x="571.2" y="436.9" font-size="13" text-anchor="middle" fill="#1a1a1a" textLength="102.8" lengthAdjust="spacingAndGlyphs">Stress time (sec)</text>
<text transform="translate(474.5,323) rotate(-90)" font-size="13" text-anchor="middle" fill="#1a1a1a">ΔV<tspan font-size="8.5" dy="2.6">TH</tspan><tspan dy="-2.6"> (V)</tspan></text>
</svg></body></html>
